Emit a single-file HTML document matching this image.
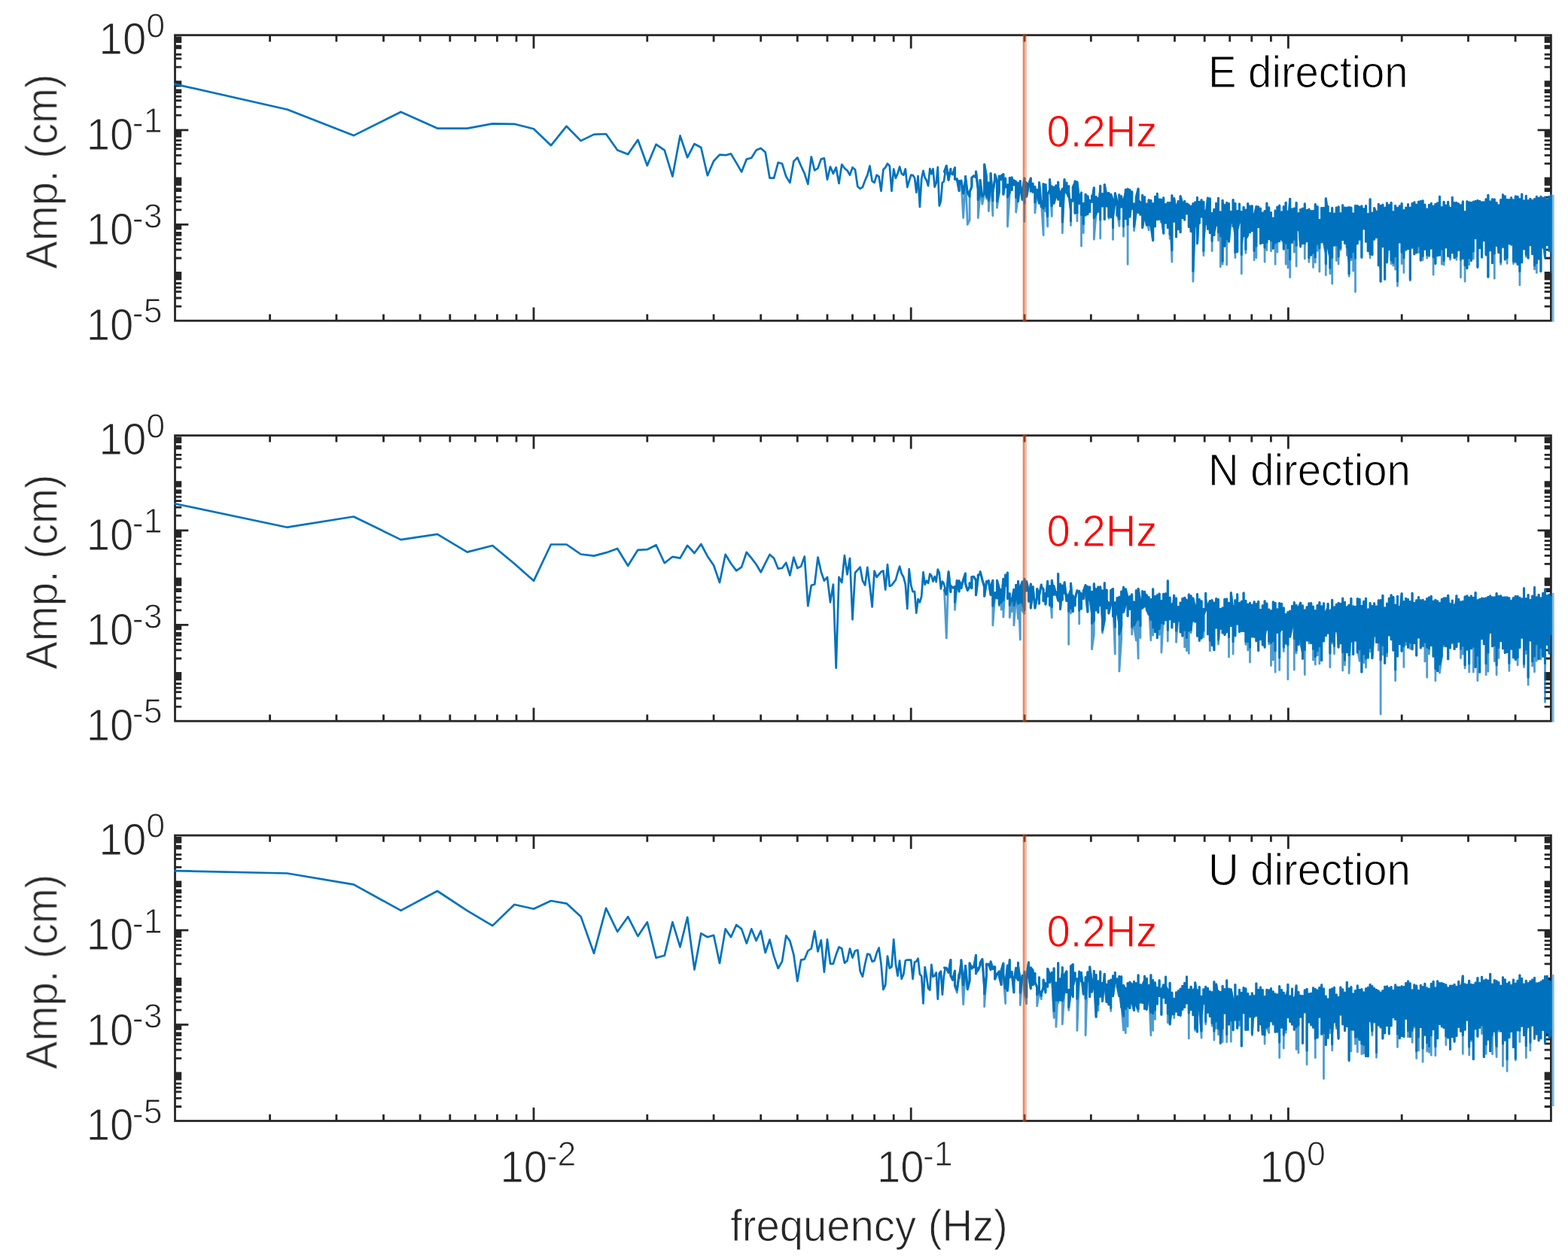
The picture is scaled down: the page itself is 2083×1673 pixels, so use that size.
<!DOCTYPE html>
<html lang="en"><head><meta charset="utf-8"><title>Amplitude spectra</title>
<style>html,body{margin:0;padding:0;background:#fff}body{width:2083px;height:1673px;overflow:hidden}svg{display:block}text{font-family:"Liberation Sans",sans-serif}</style>
</head><body>
<svg width="2083" height="1673" viewBox="0 0 2083 1673" role="img" aria-label="Amplitude spectra of E, N and U directions">
<rect width="2083" height="1673" fill="#fff"/>
<defs><filter id="bl" filterUnits="userSpaceOnUse" x="0" y="0" width="2083" height="1673"><feGaussianBlur stdDeviation="0.5"/></filter><filter id="tb" filterUnits="userSpaceOnUse" x="0" y="0" width="2083" height="1673"><feGaussianBlur stdDeviation="0.7"/></filter></defs>
<g>
<clipPath id="c0"><rect x="231.1" y="46.7" width="1830.7" height="380.9"/></clipPath>
<path d="M232.5 89.1h8.7M2060.4 89.1h-8.7M232.5 77.9h8.7M2060.4 77.9h-8.7M232.5 72.3h8.7M2060.4 72.3h-8.7M232.5 63.9h8.7M2060.4 63.9h-8.7M232.5 61.2h8.7M2060.4 61.2h-8.7M232.5 55.6h8.7M2060.4 55.6h-8.7M232.5 52.8h8.7M2060.4 52.8h-8.7M232.5 50h8.7M2060.4 50h-8.7M232.5 108.6h8.7M2060.4 108.6h-8.7M232.5 153.2h8.7M2060.4 153.2h-8.7M232.5 142.1h8.7M2060.4 142.1h-8.7M232.5 133.7h8.7M2060.4 133.7h-8.7M232.5 128.1h8.7M2060.4 128.1h-8.7M232.5 122.5h8.7M2060.4 122.5h-8.7M232.5 119.8h8.7M2060.4 119.8h-8.7M232.5 114.2h8.7M2060.4 114.2h-8.7M232.5 111.4h8.7M2060.4 111.4h-8.7M232.5 172.8h17.8M2060.4 172.8h-17.8M232.5 217.4h8.7M2060.4 217.4h-8.7M232.5 206.3h8.7M2060.4 206.3h-8.7M232.5 197.9h8.7M2060.4 197.9h-8.7M232.5 192.3h8.7M2060.4 192.3h-8.7M232.5 186.7h8.7M2060.4 186.7h-8.7M232.5 181.1h8.7M2060.4 181.1h-8.7M232.5 178.4h8.7M2060.4 178.4h-8.7M232.5 175.6h8.7M2060.4 175.6h-8.7M232.5 236.9h8.7M2060.4 236.9h-8.7M232.5 278.8h8.7M2060.4 278.8h-8.7M232.5 267.6h8.7M2060.4 267.6h-8.7M232.5 262.1h8.7M2060.4 262.1h-8.7M232.5 253.7h8.7M2060.4 253.7h-8.7M232.5 250.9h8.7M2060.4 250.9h-8.7M232.5 245.3h8.7M2060.4 245.3h-8.7M232.5 242.5h8.7M2060.4 242.5h-8.7M232.5 239.7h8.7M2060.4 239.7h-8.7M232.5 298.3h17.8M2060.4 298.3h-17.8M232.5 343h8.7M2060.4 343h-8.7M232.5 331.8h8.7M2060.4 331.8h-8.7M232.5 323.5h8.7M2060.4 323.5h-8.7M232.5 317.9h8.7M2060.4 317.9h-8.7M232.5 312.3h8.7M2060.4 312.3h-8.7M232.5 309.5h8.7M2060.4 309.5h-8.7M232.5 303.9h8.7M2060.4 303.9h-8.7M232.5 301.1h8.7M2060.4 301.1h-8.7M232.5 362.5h8.7M2060.4 362.5h-8.7M232.5 407.2h8.7M2060.4 407.2h-8.7M232.5 396h8.7M2060.4 396h-8.7M232.5 387.6h8.7M2060.4 387.6h-8.7M232.5 382.1h8.7M2060.4 382.1h-8.7M232.5 376.5h8.7M2060.4 376.5h-8.7M232.5 370.9h8.7M2060.4 370.9h-8.7M232.5 368.1h8.7M2060.4 368.1h-8.7M232.5 365.3h8.7M2060.4 365.3h-8.7M358.6 426.2v-8.7M358.6 46.7v8.7M446.9 426.2v-8.7M446.9 46.7v8.7M509.5 426.2v-8.7M509.5 46.7v8.7M558.1 426.2v-8.7M558.1 46.7v8.7M597.8 426.2v-8.7M597.8 46.7v8.7M631.3 426.2v-8.7M631.3 46.7v8.7M660.4 426.2v-8.7M660.4 46.7v8.7M686 426.2v-8.7M686 46.7v8.7M709 426.2v-17.8M709 46.7v17.8M859.8 426.2v-8.7M859.8 46.7v8.7M948.1 426.2v-8.7M948.1 46.7v8.7M1010.7 426.2v-8.7M1010.7 46.7v8.7M1059.3 426.2v-8.7M1059.3 46.7v8.7M1099 426.2v-8.7M1099 46.7v8.7M1132.5 426.2v-8.7M1132.5 46.7v8.7M1161.6 426.2v-8.7M1161.6 46.7v8.7M1187.2 426.2v-8.7M1187.2 46.7v8.7M1210.2 426.2v-17.8M1210.2 46.7v17.8M1361 426.2v-8.7M1361 46.7v8.7M1449.3 426.2v-8.7M1449.3 46.7v8.7M1511.9 426.2v-8.7M1511.9 46.7v8.7M1560.5 426.2v-8.7M1560.5 46.7v8.7M1600.2 426.2v-8.7M1600.2 46.7v8.7M1633.7 426.2v-8.7M1633.7 46.7v8.7M1662.8 426.2v-8.7M1662.8 46.7v8.7M1688.4 426.2v-8.7M1688.4 46.7v8.7M1711.4 426.2v-17.8M1711.4 46.7v17.8M1862.2 426.2v-8.7M1862.2 46.7v8.7M1950.5 426.2v-8.7M1950.5 46.7v8.7M2013.1 426.2v-8.7M2013.1 46.7v8.7" fill="none" stroke="#262626" stroke-width="2.8"/>
<rect x="232.5" y="46.7" width="1827.9" height="379.5" fill="none" stroke="#262626" stroke-width="2.8"/>
<g clip-path="url(#c0)" filter="url(#bl)" fill="none" stroke="#0072BD" stroke-linejoin="round">
<path d="M230.7,111.4 381.6,145.5 469.8,180.1 532.5,148.7 581,170.6 620.7,170.6 654.3,164.4 683.3,164.8 709,171.3 731.9,193.3 752.6,167.7 771.6,187.1 789,178.6 805.1,178 820.2,199.6 834.2,205 847.4,185.8 859.8,220 871.6,191.8 882.8,199.6 893.4,234.4 903.5,180.4 913.2,209.2 922.5,191.2 931.3,196 939.9,233.2 948.1,214 956,205.6 963.7,206.2 971,204.4 978.2,216.4 985.1,228.4 991.8,211.6 998.3,209.8 1004.6,199.6 1010.7,197 1016.7,202.2 1022.5,236.6 1028.1,236.6 1033.7,216 1039,217.5 1044.3,234.6 1049.4,242.7 1054.4,214.4 1059.3,209.4 1064.1,220.5 1068.8,230.6 1073.3,244.7 1077.8,208.4 1082.2,226.5 1086.5,223.5 1090.8,211.4 1094.9,210.4 1099,238.6 1103,221.5 1106.9,230.6 1110.7,222.5 1114.5,243.7 1118.3,218.5 1121.9,223.5 1125.5,226.5 1129,232.6 1132.5,222.5 1136,225.5 1139.3,247.7 1142.7,250.7 1145.9,248.7 1149.2,239.6 1152.3,232.6 1155.5,220.5 1158.6,240.6 1161.6,242.7 1164.6,232.6 1167.6,234.6 1170.5,253.8 1173.4,225.5 1176.2,222.5 1179,217.5 1181.8,220.5 1184.5,253.8 1187.2,224.5 1189.9,236.6 1192.5,230.6 1195.1,221.5 1197.7,230.6 1200.3,232.6 1202.8,224.5 1205.3,248.7 1207.7,240.6 1210.2,232.6 1212.6,232.9 1215,236.2 1217.3,255.6 1219.6,233.9 1221.9,275 1224.2,237.8 1226.5,226.8 1228.7,236 1230.9,239.8 1233.1,246.8 1235.3,224.2 1237.4,231.1 1239.5,224.4 1241.6,248.5 1243.7,243.3 1245.8,222.2 1247.8,273.5 1249.9,266.8 1251.9,242.6 1253.8,241.4 1255.8,228.3" stroke-width="2.7"/>
<path d="M1255.8,228.3 1254.5,228.3 1257.3,220.3 1260.1,239.2 1262.9,224.6 1262.9,230 1265.7,231.8 1268.5,222.9 1268.5,238.2 1271.3,237.7 1274.1,253.6 1274.1,240.3 1276.9,244.4 1276.9,240.1 1279.7,289.5 1282.5,239.1 1282.5,234.3 1285.3,298.4 1288.1,292.4 1288.1,255 1290.9,248.2 1290.9,236.1 1293.7,233.7 1296.5,235.6 1296.5,228 1299.3,251.7 1299.3,289.5 1302.1,256.9 1302.1,239.2 1304.9,271.3 1307.7,257.6 1307.7,218.5 1310.5,234.8 1310.5,264.1 1313.3,242.8 1313.3,280.6 1316.1,241.1 1316.1,230.4 1318.9,286.6 1318.9,255.2 1321.7,238.2 1321.7,231.9 1324.5,240.4 1324.5,276.1 1327.3,255.1 1327.3,234 1330.1,238.6 1330.1,233.6 1332.9,231.6 1332.9,258.2 1335.7,237 1335.7,248.7 1338.5,245.4 1338.5,301 1341.3,255.8 1341.3,236.2 1344.1,252.5 1344.1,235.9 1346.9,245.7 1346.9,239.7 1349.7,241.6 1349.7,282.1 1352.5,261 1352.5,243.1 1352.5,267.5 1355.3,240.6 1355.3,246.2 1358.1,265.3 1358.1,254.5 1360.9,237 1360.9,294.6 1360.9,241.6 1363.7,243.2 1363.7,261.2 1366.5,245.7 1366.5,244.9 1369.3,236.9 1369.3,237.9 1369.3,254.2 1372.1,244 1372.1,255.2 1374.9,248.2 1374.9,250.8 1374.9,282.8 1377.7,252.1 1377.7,255.2 1380.5,270 1380.5,243.4 1380.5,242.5 1383.3,274.9 1383.3,267.1 1386.1,312.5 1386.1,244.4 1386.1,263.2 1388.9,280.7 1388.9,245.2 1391.7,301 1391.7,273.5 1391.7,258.4 1394.5,252.7 1394.5,242.3 1394.5,238.5 1397.3,287.4 1397.3,247.8 1400.1,263.4 1400.1,248.7 1400.1,270.2 1402.9,259.6 1402.9,250.3 1402.9,246.6 1405.7,265.1 1405.7,242.1 1405.7,248.8 1408.5,259.3 1408.5,273.7 1408.5,261.5 1411.3,251.1 1411.3,281.1 1411.3,309.6 1414.1,238.5 1414.1,251.3 1414.1,256.8 1416.9,243.1 1416.9,248.6 1416.9,254.9 1419.7,261.6 1419.7,247.3 1419.7,255.2 1422.5,279.6 1422.5,299.6 1422.5,265.5 1425.3,267.1 1425.3,263 1425.3,248.6 1428.1,242.7 1428.1,240.8 1428.1,283.2 1430.9,268.4 1430.9,293.7 1430.9,241.8 1433.7,266.1 1433.7,260.8 1433.7,270.5 1436.5,256 1436.5,326.9 1436.5,263.5 1436.5,271.4 1439.3,283.6 1439.3,309.6 1439.3,270.2 1442.1,275.1 1442.1,286.1 1442.1,258.2 1444.9,269.9 1444.9,284.7 1444.9,281.7 1444.9,260.7 1447.7,275.9 1447.7,281.4 1447.7,266.3 1450.5,268.3 1450.5,260.3 1450.5,267 1450.5,268.1 1453.3,249.6 1453.3,269.6 1453.3,318 1456.1,284.2 1456.1,273.9 1456.1,261.5 1456.1,274.5 1458.9,268.1 1458.9,263.5 1458.9,281.3 1461.7,250.9 1461.7,316.8 1461.7,247.1 1461.7,269.6 1464.5,265.5 1464.5,257.5 1464.5,274 1464.5,266.4 1467.3,270.7 1467.3,291.4 1467.3,259 1467.3,245.2 1470.1,260.7 1470.1,274 1470.1,257.6 1472.9,256.5 1472.9,290.3 1472.9,273.6 1472.9,265.9 1475.7,289 1475.7,262.4 1475.7,274.4 1475.7,258.3 1478.5,266.1 1478.5,282.2 1478.5,318.3 1478.5,288.6 1481.3,265 1481.3,271.9 1481.3,263.1 1481.3,256.7 1484.1,269.1 1484.1,285.4 1484.1,286.5 1484.1,278 1486.9,300.4 1486.9,262.5 1486.9,258.8 1486.9,268.4 1489.7,262.8 1489.7,260.8 1489.7,275.1 1489.7,270.3 1492.5,264.6 1492.5,287.1 1492.5,314.1 1492.5,269.4 1495.3,255.4 1495.3,252.1 1495.3,290.7 1495.3,253.3 1498.1,279.8 1498.1,351.2 1498.1,251.1 1500.9,259.4 1500.9,270.6 1500.9,252.2 1500.9,288 1503.7,263.6 1503.7,260 1503.7,254.8 1503.7,277.5 1506.5,270.9 1506.5,306.6 1509.3,280.4 1509.3,263.1 1509.3,272.5 1509.3,262.5 1512.1,250.9 1512.1,282.4 1512.1,266.3 1514.9,268.8 1514.9,285.2 1517.7,270.8 1517.7,259.4 1517.7,302.4 1520.5,283.9 1520.5,261.8 1520.5,273.3 1520.5,279.7 1523.3,299.2 1523.3,271 1523.3,288.9 1526.1,305.7 1526.1,265.7 1526.1,284.9 1528.9,290.9 1528.9,266.4 1528.9,299.1 1531.7,319.5 1531.7,270.5 1534.5,300.9 1534.5,261.3 1534.5,274.9 1537.3,278.8 1537.3,257.3 1537.3,291.8 1537.3,260.6 1540.1,291.3 1540.1,265.1 1542.9,265.5 1542.9,295 1542.9,285.8 1545.7,309.1 1545.7,310.1 1545.7,262.9 1545.7,279.5 1548.5,271.5 1548.5,296.2 1551.3,281.2 1551.3,302.5 1551.3,269.3 1554.1,297.4 1554.1,317.3 1554.1,269.4 1556.9,348 1556.9,259.7 1556.9,280.7 1559.7,276.8 1559.7,294.3 1559.7,263.6 1562.5,282 1562.5,314.8 1562.5,273 1562.5,280 1565.3,267.5 1565.3,304.6 1565.3,275.1 1568.1,270.6 1568.1,308.7 1568.1,260.7 1570.9,271.1 1570.9,289.5 1570.9,286.7 1573.7,267.5 1573.7,292.1 1573.7,271.9 1576.5,283.7 1576.5,283.9 1576.5,270.7 1579.3,272.6 1579.3,301.4 1579.3,287.5 1582.1,302.1 1582.1,274.1 1582.1,307.5 1582.1,277.3 1584.9,310.7 1584.9,270.6 1584.9,374 1587.7,275.8 1587.7,268.9 1587.7,300.9 1587.7,281.1 1590.5,292.1 1590.5,262.5 1590.5,323.4 1593.3,270.6 1593.3,296.5 1593.3,268.3 1596.1,270.5 1596.1,265.7 1596.1,288.1 1596.1,274.4 1598.9,275.2 1598.9,339.6 1598.9,268.4 1598.9,319.3 1601.7,284.7 1601.7,298.1 1601.7,280.1 1601.7,290.1 1604.5,263.1 1604.5,304.2 1604.5,283.1 1607.3,275.6 1607.3,263.8 1607.3,309.6 1607.3,295.3 1610.1,306.1 1610.1,283.4 1610.1,333.6 1610.1,301.6 1612.9,278.4 1612.9,312.5 1612.9,308.6 1615.7,295.4 1615.7,299.4 1615.7,270.2 1615.7,281.8 1618.5,286.2 1618.5,263.4 1618.5,319.5 1618.5,294.4 1621.3,281.9 1621.3,354.5 1621.3,296.3 1624.1,299.8 1624.1,266.2 1624.1,351 1624.1,269.3 1626.9,277.1 1626.9,272.6 1626.9,327.1 1629.7,290.9 1629.7,351.8 1629.7,269.3 1632.5,317.5 1632.5,270.6 1632.5,321 1635.3,285.9 1635.3,295.2 1635.3,281.2 1638.1,298.4 1638.1,265.6 1638.1,300.7 1638.1,285.2 1640.9,313.1 1640.9,270.3 1640.9,342.4 1640.9,288.5 1643.7,331.2 1643.7,280.2 1643.7,334.5 1643.7,305.5 1646.5,293.7 1646.5,294.7 1646.5,271 1646.5,287.7 1649.3,296.9 1649.3,281.4 1649.3,363.7 1649.3,324.6 1652.1,300.6 1652.1,275.3 1652.1,313.6 1652.1,282.1 1654.9,298.2 1654.9,279 1654.9,336.3 1654.9,317.3 1657.7,312.4 1657.7,270.5 1657.7,273.4 1660.5,274.3 1660.5,308.8 1663.3,273.7 1663.3,306.7 1666.1,286.4 1666.1,345.6 1666.1,285 1666.1,286.6 1668.9,275.5 1668.9,342.6 1668.9,274.4 1671.7,281.1 1671.7,274.8 1671.7,301.8 1671.7,286.7 1674.5,302 1674.5,277.1 1674.5,323.7 1674.5,307.2 1677.3,285 1677.3,322.8 1677.3,283 1677.3,288.5 1680.1,288.2 1680.1,348 1680.1,280.4 1680.1,314.9 1682.9,284.6 1682.9,270.1 1682.9,332.4 1682.9,294.6 1685.7,306.9 1685.7,275.8 1685.7,317.6 1685.7,283.6 1688.5,282.7 1688.5,333.7 1688.5,294.6 1691.3,303.1 1691.3,290 1691.3,330.2 1694.1,299.3 1694.1,280 1694.1,351.2 1694.1,289 1696.9,281.1 1696.9,335.1 1696.9,275.1 1696.9,281.8 1699.7,275.4 1699.7,320.4 1699.7,273.1 1699.7,297.9 1702.5,283.8 1702.5,281.7 1702.5,317.5 1705.3,321.4 1705.3,330.9 1705.3,274.6 1705.3,295.3 1708.1,294.8 1708.1,351 1708.1,269.2 1708.1,281.2 1710.9,281.2 1710.9,355.8 1710.9,281 1710.9,307.4 1713.7,264.3 1713.7,368.5 1713.7,297.9 1716.5,314.6 1716.5,322.2 1716.5,277.9 1716.5,312.3 1719.3,287.6 1719.3,277 1719.3,335.1 1722.1,312.2 1722.1,269.5 1722.1,353.7 1722.1,283.7 1724.9,299.5 1724.9,283.5 1724.9,305.4 1724.9,288.5 1727.7,328.3 1727.7,278.3 1727.7,313.1 1730.5,298.6 1730.5,277.1 1730.5,323.4 1730.5,311.8 1733.3,290.7 1733.3,270.9 1733.3,343.8 1733.3,288.8 1736.1,289.2 1736.1,279.3 1736.1,320.8 1736.1,289.6 1738.9,295.1 1738.9,348.2 1738.9,278.1 1738.9,285.7 1741.7,298.3 1741.7,280.4 1741.7,338.9 1741.7,286.5 1744.5,322 1744.5,355.4 1744.5,280.4 1744.5,297.3 1747.3,277.8 1747.3,348.8 1747.3,271.5 1747.3,284.1 1750.1,294.2 1750.1,274.6 1750.1,333.4 1752.9,299.7 1752.9,360.9 1752.9,292.2 1752.9,298.3 1755.7,321.8 1755.7,276.4 1755.7,299.5 1758.5,277.6 1758.5,276.2 1758.5,322.9 1761.3,336.4 1761.3,365.6 1761.3,263.8 1764.1,286.3 1764.1,274.2 1764.1,327.2 1766.9,341.9 1766.9,283.4 1766.9,363.7 1766.9,301.6 1769.7,284.3 1769.7,276.3 1769.7,377 1769.7,285.7 1772.5,288.9 1772.5,284 1772.5,326.1 1772.5,303.5 1775.3,287.9 1775.3,346.3 1775.3,276 1775.3,286.8 1778.1,288.1 1778.1,350.8 1778.1,274.9 1778.1,291.1 1780.9,303.2 1780.9,332.1 1780.9,283.5 1780.9,310.8 1783.7,311.2 1783.7,318.6 1783.7,272.7 1783.7,294.1 1786.5,294.3 1786.5,323.2 1786.5,276 1786.5,300.3 1789.3,279.7 1789.3,339.3 1789.3,276.1 1789.3,309.4 1792.1,349.7 1792.1,275.3 1792.1,367.1 1792.1,286.6 1794.9,287.5 1794.9,345.7 1794.9,276 1794.9,300.6 1797.7,320.6 1797.7,283.9 1797.7,360 1800.5,304.9 1800.5,273.2 1800.5,387.8 1800.5,329 1803.3,291.7 1803.3,323.6 1803.3,273.5 1803.3,283.2 1806.1,300.8 1806.1,275 1806.1,318.2 1806.1,286.4 1808.9,289 1808.9,273.9 1808.9,342.1 1808.9,286.6 1811.7,302.3 1811.7,277.6 1811.7,303.9 1811.7,282.9 1814.5,300 1814.5,273.5 1814.5,321.1 1817.3,299.2 1817.3,284.4 1817.3,333.4 1817.3,292 1820.1,323.6 1820.1,342.7 1820.1,264.9 1820.1,298.3 1822.9,301.6 1822.9,338.5 1822.9,283 1822.9,308.2 1825.7,297.6 1825.7,318.1 1825.7,276.5 1828.5,286.9 1828.5,315.3 1828.5,281.1 1828.5,291.4 1831.3,303.6 1831.3,271.2 1831.3,352.4 1831.3,306.9 1834.1,360.1 1834.1,374 1834.1,273.4 1834.1,282 1836.9,283.3 1836.9,327.5 1836.9,272.1 1836.9,278 1839.7,283.6 1839.7,371.1 1839.7,276.4 1839.7,283.2 1842.5,273.1 1842.5,269.9 1842.5,349 1845.3,279.3 1845.3,331.5 1845.3,272.5 1845.3,289.3 1848.1,307.1 1848.1,269.4 1848.1,350.5 1850.9,292.8 1850.9,352.9 1850.9,281.6 1850.9,300.9 1853.7,295.6 1853.7,273.4 1853.7,358.1 1856.5,306.7 1856.5,380 1856.5,276.4 1856.5,293.5 1859.3,296.7 1859.3,321.9 1859.3,273.8 1859.3,313.6 1862.1,279.7 1862.1,350.6 1862.1,270.5 1862.1,282.7 1864.9,280.2 1864.9,279.5 1864.9,362.3 1864.9,328.6 1867.7,289.2 1867.7,276.1 1867.7,332 1867.7,285.2 1870.5,291.5 1870.5,330.5 1870.5,271.6 1870.5,289.6 1873.3,293.5 1873.3,372.7 1873.3,276.1 1873.3,281.7 1876.1,301.2 1876.1,270.2 1876.1,329 1876.1,279.8 1878.9,277.5 1878.9,337.7 1878.9,268.8 1878.9,311.6 1881.7,305.7 1881.7,272.1 1881.7,335.8 1881.7,286.9 1884.5,305.9 1884.5,268.1 1884.5,335.7 1887.3,267.4 1887.3,346 1887.3,312.5 1890.1,287.8 1890.1,266.7 1890.1,345.6 1890.1,306.4 1892.9,289.6 1892.9,331.1 1892.9,272.1 1892.9,289.5 1895.7,301.9 1895.7,278 1895.7,343 1895.7,285 1898.5,304.9 1898.5,339.9 1898.5,272.4 1898.5,307 1901.3,310 1901.3,330 1901.3,270.2 1901.3,293.3 1904.1,285.3 1904.1,365 1904.1,274.1 1904.1,288 1906.9,283.6 1906.9,350.3 1906.9,271.4 1906.9,293.6 1909.7,282 1909.7,339.6 1909.7,269.9 1909.7,294.3 1912.5,332.2 1912.5,261.2 1912.5,339.1 1912.5,283.3 1915.3,316.9 1915.3,275.5 1915.3,351.2 1915.3,287.9 1918.1,320.9 1918.1,352.1 1918.1,268.3 1918.1,281.3 1920.9,278.7 1920.9,328.7 1920.9,273 1920.9,293.3 1923.7,279.8 1923.7,340.2 1923.7,268.3 1923.7,272.1 1926.5,283.9 1926.5,345 1926.5,276.2 1926.5,301.3 1929.3,287.1 1929.3,262.3 1929.3,335.8 1929.3,292.1 1932.1,284.8 1932.1,269.4 1932.1,342.8 1934.9,314.8 1934.9,345.2 1934.9,269.3 1934.9,299 1937.7,300.9 1937.7,332.3 1937.7,270.9 1937.7,282.3 1940.5,291.4 1940.5,368.7 1940.5,272.8 1943.3,273.9 1943.3,267.9 1943.3,343.6 1943.3,288.8 1946.1,288.3 1946.1,374 1946.1,281.6 1946.1,305.5 1948.9,293.7 1948.9,267.7 1948.9,356.5 1948.9,327.8 1951.7,283.4 1951.7,351.7 1951.7,268.8 1951.7,314.2 1954.5,323.6 1954.5,269.3 1954.5,346.3 1954.5,309.6 1957.3,320 1957.3,343.9 1957.3,268.1 1957.3,294.2 1960.1,286.2 1960.1,267.2 1960.1,316.4 1960.1,279.6 1962.9,313.4 1962.9,355.1 1962.9,266.4 1962.9,317.3 1965.7,299.2 1965.7,267.3 1965.7,329.5 1965.7,296.2 1968.5,323.4 1968.5,268.7 1968.5,341.9 1968.5,319.4 1971.3,278.8 1971.3,268.7 1971.3,319.5 1971.3,297.2 1974.1,278.1 1974.1,264.8 1974.1,339.3 1974.1,302.5 1976.9,312.5 1976.9,368 1976.9,259.4 1976.9,296.8 1979.7,272.1 1979.7,332.8 1979.7,267.9 1979.7,280.4 1982.5,268.5 1982.5,264.9 1982.5,349.5 1982.5,290 1985.3,286.7 1985.3,370.1 1985.3,265 1985.3,279.2 1988.1,270 1988.1,269.5 1988.1,326.2 1988.1,277.8 1990.9,335.6 1990.9,272.8 1990.9,289.3 1993.7,278.8 1993.7,265.6 1993.7,351.3 1993.7,304.1 1996.5,297.7 1996.5,328.7 1996.5,258.8 1996.5,291.4 1999.3,293.5 1999.3,260.9 1999.3,344.7 1999.3,267.8 2002.1,283 2002.1,265.3 2002.1,350.2 2002.1,269.9 2004.9,281.8 2004.9,323.7 2004.9,265.5 2004.9,304.8 2007.7,308.3 2007.7,325 2007.7,262.7 2007.7,274.6 2010.5,287.6 2010.5,350.5 2010.5,265.8 2010.5,295.6 2013.3,275.6 2013.3,348.7 2013.3,260.9 2013.3,265.9 2016.1,311.3 2016.1,261.4 2016.1,351.2 2016.1,293.5 2018.9,286.5 2018.9,264.5 2018.9,378.8 2018.9,282.5 2021.7,296.6 2021.7,348.6 2021.7,258.1 2021.7,292.9 2024.5,270.2 2024.5,266.8 2024.5,330.8 2024.5,272.5 2027.3,290.5 2027.3,260.4 2027.3,341 2027.3,281.6 2030.1,274.9 2030.1,266.6 2030.1,342.9 2030.1,271.2 2032.9,286.1 2032.9,264.3 2032.9,325.8 2032.9,281.7 2035.7,273.2 2035.7,337.6 2035.7,266.3 2035.7,277.4 2038.5,276.9 2038.5,357.8 2038.5,264.5 2038.5,289.1 2041.3,283.3 2041.3,362.4 2041.3,261.2 2041.3,286.2 2044.1,296.8 2044.1,344 2044.1,263.3 2044.1,297 2046.9,292.1 2046.9,360.6 2046.9,261.3 2046.9,287.7 2049.7,288.9 2049.7,328.9 2049.7,263.1 2049.7,311.6 2052.5,341.7 2052.5,262.4 2052.5,288.4 2055.3,271.4 2055.3,325.5 2055.3,265.5 2055.3,283.8 2058.1,283.5 2058.1,333.3 2058.1,261.3 2058.1,280 2060.9,272.4 2060.9,361.5 2060.9,257.8" stroke-width="2.8" stroke-opacity="0.7"/>
<path d="M1255.8,228.3 1254.5,228.3 1257.3,220.3 1260.1,239.2 1262.9,224.6 1262.9,230 1265.7,231.8 1268.5,222.9 1268.5,238.2 1271.3,237.7 1274.1,253.6 1274.1,240.3 1276.9,244.4 1276.9,240.1 1279.7,257.2 1282.5,239.1 1282.5,234.3 1285.3,256.1 1288.1,261.2 1288.1,255 1290.9,248.2 1290.9,236.1 1293.7,233.7 1296.5,235.6 1296.5,228 1299.3,251.7 1299.3,265.6 1302.1,256.9 1302.1,239.2 1304.9,261 1307.7,257.6 1307.7,218.5 1310.5,234.8 1310.5,261.3 1313.3,242.8 1313.3,266.7 1316.1,241.1 1316.1,230.4 1318.9,266.9 1318.9,255.2 1321.7,238.2 1321.7,231.9 1324.5,240.4 1324.5,267.5 1327.3,255.1 1327.3,234 1330.1,238.6 1330.1,233.6 1332.9,231.6 1332.9,258.2 1335.7,237 1335.7,248.7 1338.5,245.4 1338.5,262 1341.3,255.8 1341.3,236.2 1344.1,252.5 1344.1,235.9 1346.9,245.7 1346.9,239.7 1349.7,241.6 1349.7,262.6 1352.5,261 1352.5,243.1 1352.5,267.5 1355.3,240.6 1355.3,246.2 1358.1,265.3 1358.1,254.5 1360.9,237 1360.9,270 1360.9,241.6 1363.7,243.2 1363.7,261.2 1366.5,245.7 1366.5,244.9 1369.3,236.9 1369.3,237.9 1369.3,254.2 1372.1,244 1372.1,255.2 1374.9,248.2 1374.9,250.8 1374.9,268.9 1377.7,252.1 1377.7,255.2 1380.5,270 1380.5,243.4 1380.5,242.5 1383.3,274.9 1383.3,267.1 1386.1,277.2 1386.1,244.4 1386.1,263.2 1388.9,273.8 1388.9,245.2 1391.7,287.5 1391.7,273.5 1391.7,258.4 1394.5,252.7 1394.5,242.3 1394.5,238.5 1397.3,273.8 1397.3,247.8 1400.1,263.4 1400.1,248.7 1400.1,270.2 1402.9,259.6 1402.9,250.3 1402.9,246.6 1405.7,265.1 1405.7,242.1 1405.7,248.8 1408.5,259.3 1408.5,273.7 1408.5,261.5 1411.3,251.1 1411.3,281.1 1411.3,295.1 1414.1,238.5 1414.1,251.3 1414.1,256.8 1416.9,243.1 1416.9,248.6 1416.9,254.9 1419.7,261.6 1419.7,247.3 1419.7,255.2 1422.5,279.6 1422.5,293.6 1422.5,265.5 1425.3,267.1 1425.3,263 1425.3,248.6 1428.1,242.7 1428.1,240.8 1428.1,283.2 1430.9,268.4 1430.9,283.1 1430.9,241.8 1433.7,266.1 1433.7,260.8 1433.7,270.5 1436.5,256 1436.5,285.4 1436.5,263.5 1436.5,271.4 1439.3,283.6 1439.3,297.6 1439.3,270.2 1442.1,275.1 1442.1,286.1 1442.1,258.2 1444.9,269.9 1444.9,284.7 1444.9,281.7 1444.9,260.7 1447.7,275.9 1447.7,281.4 1447.7,266.3 1450.5,268.3 1450.5,260.3 1450.5,267 1450.5,268.1 1453.3,249.6 1453.3,269.6 1453.3,289.8 1456.1,284.2 1456.1,273.9 1456.1,261.5 1456.1,274.5 1458.9,268.1 1458.9,263.5 1458.9,281.3 1461.7,250.9 1461.7,292.1 1461.7,247.1 1461.7,269.6 1464.5,265.5 1464.5,257.5 1464.5,274 1464.5,266.4 1467.3,270.7 1467.3,291.4 1467.3,259 1467.3,245.2 1470.1,260.7 1470.1,274 1470.1,257.6 1472.9,256.5 1472.9,287.9 1472.9,273.6 1472.9,265.9 1475.7,288.4 1475.7,262.4 1475.7,274.4 1475.7,258.3 1478.5,266.1 1478.5,282.2 1478.5,302.6 1478.5,288.6 1481.3,265 1481.3,271.9 1481.3,263.1 1481.3,256.7 1484.1,269.1 1484.1,285.4 1484.1,286.5 1484.1,278 1486.9,291.3 1486.9,262.5 1486.9,258.8 1486.9,268.4 1489.7,262.8 1489.7,260.8 1489.7,275.1 1489.7,270.3 1492.5,264.6 1492.5,287.1 1492.5,301.1 1492.5,269.4 1495.3,255.4 1495.3,252.1 1495.3,290.7 1495.3,253.3 1498.1,279.8 1498.1,298.5 1498.1,251.1 1500.9,259.4 1500.9,270.6 1500.9,252.2 1500.9,288 1503.7,263.6 1503.7,260 1503.7,254.8 1503.7,277.5 1506.5,270.9 1506.5,301.1 1509.3,280.4 1509.3,263.1 1509.3,272.5 1509.3,262.5 1512.1,250.9 1512.1,282.4 1512.1,266.3 1514.9,268.8 1514.9,285.2 1517.7,270.8 1517.7,259.4 1517.7,302.4 1520.5,283.9 1520.5,261.8 1520.5,273.3 1520.5,279.7 1523.3,299.2 1523.3,271 1523.3,288.9 1526.1,298.9 1526.1,265.7 1526.1,284.9 1528.9,290.9 1528.9,266.4 1528.9,299.1 1531.7,319.5 1531.7,270.5 1534.5,300.9 1534.5,261.3 1534.5,274.9 1537.3,278.8 1537.3,257.3 1537.3,291.8 1537.3,260.6 1540.1,291.3 1540.1,265.1 1542.9,265.5 1542.9,295 1542.9,285.8 1545.7,309.1 1545.7,310.1 1545.7,262.9 1545.7,279.5 1548.5,271.5 1548.5,296.2 1551.3,281.2 1551.3,302.5 1551.3,269.3 1554.1,297.4 1554.1,311.4 1554.1,269.4 1556.9,332.4 1556.9,259.7 1556.9,280.7 1559.7,276.8 1559.7,294.3 1559.7,263.6 1562.5,282 1562.5,314.8 1562.5,273 1562.5,280 1565.3,267.5 1565.3,304.6 1565.3,275.1 1568.1,270.6 1568.1,308.4 1568.1,260.7 1570.9,271.1 1570.9,289.5 1570.9,286.7 1573.7,267.5 1573.7,292.1 1573.7,271.9 1576.5,283.7 1576.5,283.9 1576.5,270.7 1579.3,272.6 1579.3,301.4 1579.3,287.5 1582.1,302.1 1582.1,274.1 1582.1,307.5 1582.1,277.3 1584.9,310.7 1584.9,270.6 1584.9,360.2 1587.7,275.8 1587.7,268.9 1587.7,300.9 1587.7,281.1 1590.5,292.1 1590.5,262.5 1590.5,323.4 1593.3,270.6 1593.3,296.5 1593.3,268.3 1596.1,270.5 1596.1,265.7 1596.1,288.1 1596.1,274.4 1598.9,275.2 1598.9,333.3 1598.9,268.4 1598.9,319.3 1601.7,284.7 1601.7,298.1 1601.7,280.1 1601.7,290.1 1604.5,263.1 1604.5,304.2 1604.5,283.1 1607.3,275.6 1607.3,263.8 1607.3,309.6 1607.3,295.3 1610.1,306.1 1610.1,283.4 1610.1,320.1 1610.1,301.6 1612.9,278.4 1612.9,312.5 1612.9,308.6 1615.7,295.4 1615.7,299.4 1615.7,270.2 1615.7,281.8 1618.5,286.2 1618.5,263.4 1618.5,308.4 1618.5,294.4 1621.3,281.9 1621.3,313.6 1621.3,296.3 1624.1,299.8 1624.1,266.2 1624.1,347.1 1624.1,269.3 1626.9,277.1 1626.9,272.6 1626.9,327.1 1629.7,290.9 1629.7,317.6 1629.7,269.3 1632.5,317.5 1632.5,270.6 1632.5,321 1635.3,285.9 1635.3,295.2 1635.3,281.2 1638.1,298.4 1638.1,265.6 1638.1,300.7 1638.1,285.2 1640.9,313.1 1640.9,270.3 1640.9,335.5 1640.9,288.5 1643.7,331.2 1643.7,280.2 1643.7,334.5 1643.7,305.5 1646.5,293.7 1646.5,294.7 1646.5,271 1646.5,287.7 1649.3,296.9 1649.3,281.4 1649.3,338.6 1649.3,324.6 1652.1,300.6 1652.1,275.3 1652.1,313.6 1652.1,282.1 1654.9,298.2 1654.9,279 1654.9,331.3 1654.9,317.3 1657.7,312.4 1657.7,270.5 1657.7,273.4 1660.5,274.3 1660.5,308.8 1663.3,273.7 1663.3,306.7 1666.1,286.4 1666.1,333.2 1666.1,285 1666.1,286.6 1668.9,275.5 1668.9,327 1668.9,274.4 1671.7,281.1 1671.7,274.8 1671.7,301.8 1671.7,286.7 1674.5,302 1674.5,277.1 1674.5,323.7 1674.5,307.2 1677.3,285 1677.3,322.8 1677.3,283 1677.3,288.5 1680.1,288.2 1680.1,328.9 1680.1,280.4 1680.1,314.9 1682.9,284.6 1682.9,270.1 1682.9,322 1682.9,294.6 1685.7,306.9 1685.7,275.8 1685.7,317.6 1685.7,283.6 1688.5,282.7 1688.5,319.6 1688.5,294.6 1691.3,303.1 1691.3,290 1691.3,330.2 1694.1,299.3 1694.1,280 1694.1,322.7 1694.1,289 1696.9,281.1 1696.9,321.2 1696.9,275.1 1696.9,281.8 1699.7,275.4 1699.7,320.4 1699.7,273.1 1699.7,297.9 1702.5,283.8 1702.5,281.7 1702.5,317.5 1705.3,321.4 1705.3,330.9 1705.3,274.6 1705.3,295.3 1708.1,294.8 1708.1,323.1 1708.1,269.2 1708.1,281.2 1710.9,281.2 1710.9,329.6 1710.9,281 1710.9,307.4 1713.7,264.3 1713.7,344.8 1713.7,297.9 1716.5,314.6 1716.5,322.2 1716.5,277.9 1716.5,312.3 1719.3,287.6 1719.3,277 1719.3,318.3 1722.1,312.2 1722.1,269.5 1722.1,326.2 1722.1,283.7 1724.9,299.5 1724.9,283.5 1724.9,305.4 1724.9,288.5 1727.7,327.1 1727.7,278.3 1727.7,313.1 1730.5,298.6 1730.5,277.1 1730.5,323.4 1730.5,311.8 1733.3,290.7 1733.3,270.9 1733.3,323.4 1733.3,288.8 1736.1,289.2 1736.1,279.3 1736.1,320.8 1736.1,289.6 1738.9,295.1 1738.9,342.8 1738.9,278.1 1738.9,285.7 1741.7,298.3 1741.7,280.4 1741.7,338.9 1741.7,286.5 1744.5,322 1744.5,336 1744.5,280.4 1744.5,297.3 1747.3,277.8 1747.3,341.7 1747.3,271.5 1747.3,284.1 1750.1,294.2 1750.1,274.6 1750.1,324.2 1752.9,299.7 1752.9,329.6 1752.9,292.2 1752.9,298.3 1755.7,321.8 1755.7,276.4 1755.7,299.5 1758.5,277.6 1758.5,276.2 1758.5,318.4 1761.3,336.4 1761.3,350.4 1761.3,263.8 1764.1,286.3 1764.1,274.2 1764.1,327.2 1766.9,341.9 1766.9,283.4 1766.9,355.9 1766.9,301.6 1769.7,284.3 1769.7,276.3 1769.7,342.2 1769.7,285.7 1772.5,288.9 1772.5,284 1772.5,326.1 1772.5,303.5 1775.3,287.9 1775.3,325.8 1775.3,276 1775.3,286.8 1778.1,288.1 1778.1,340.7 1778.1,274.9 1778.1,291.1 1780.9,303.2 1780.9,329.6 1780.9,283.5 1780.9,310.8 1783.7,311.2 1783.7,318.6 1783.7,272.7 1783.7,294.1 1786.5,294.3 1786.5,323.2 1786.5,276 1786.5,300.3 1789.3,279.7 1789.3,328.6 1789.3,276.1 1789.3,309.4 1792.1,349.7 1792.1,275.3 1792.1,363.7 1792.1,286.6 1794.9,287.5 1794.9,342 1794.9,276 1794.9,300.6 1797.7,320.6 1797.7,283.9 1797.7,334.6 1800.5,304.9 1800.5,273.2 1800.5,343 1800.5,329 1803.3,291.7 1803.3,323.6 1803.3,273.5 1803.3,283.2 1806.1,300.8 1806.1,275 1806.1,318.2 1806.1,286.4 1808.9,289 1808.9,273.9 1808.9,342.1 1808.9,286.6 1811.7,302.3 1811.7,277.6 1811.7,303.9 1811.7,282.9 1814.5,300 1814.5,273.5 1814.5,321.1 1817.3,299.2 1817.3,284.4 1817.3,333.4 1817.3,292 1820.1,323.6 1820.1,337.6 1820.1,264.9 1820.1,298.3 1822.9,301.6 1822.9,338.5 1822.9,283 1822.9,308.2 1825.7,297.6 1825.7,318.1 1825.7,276.5 1828.5,286.9 1828.5,315.3 1828.5,281.1 1828.5,291.4 1831.3,303.6 1831.3,271.2 1831.3,352.4 1831.3,306.9 1834.1,360.1 1834.1,374 1834.1,273.4 1834.1,282 1836.9,283.3 1836.9,327.5 1836.9,272.1 1836.9,278 1839.7,283.6 1839.7,371.1 1839.7,276.4 1839.7,283.2 1842.5,273.1 1842.5,269.9 1842.5,348.3 1845.3,279.3 1845.3,331.5 1845.3,272.5 1845.3,289.3 1848.1,307.1 1848.1,269.4 1848.1,345.9 1850.9,292.8 1850.9,349.3 1850.9,281.6 1850.9,300.9 1853.7,295.6 1853.7,273.4 1853.7,340.7 1856.5,306.7 1856.5,373.7 1856.5,276.4 1856.5,293.5 1859.3,296.7 1859.3,321.9 1859.3,273.8 1859.3,313.6 1862.1,279.7 1862.1,335.3 1862.1,270.5 1862.1,282.7 1864.9,280.2 1864.9,279.5 1864.9,342.6 1864.9,328.6 1867.7,289.2 1867.7,276.1 1867.7,332 1867.7,285.2 1870.5,291.5 1870.5,330.5 1870.5,271.6 1870.5,289.6 1873.3,293.5 1873.3,371.1 1873.3,276.1 1873.3,281.7 1876.1,301.2 1876.1,270.2 1876.1,329 1876.1,279.8 1878.9,277.5 1878.9,337.7 1878.9,268.8 1878.9,311.6 1881.7,305.7 1881.7,272.1 1881.7,335.8 1881.7,286.9 1884.5,305.9 1884.5,268.1 1884.5,327 1887.3,267.4 1887.3,346 1887.3,312.5 1890.1,287.8 1890.1,266.7 1890.1,340.2 1890.1,306.4 1892.9,289.6 1892.9,331.1 1892.9,272.1 1892.9,289.5 1895.7,301.9 1895.7,278 1895.7,338.8 1895.7,285 1898.5,304.9 1898.5,339.9 1898.5,272.4 1898.5,307 1901.3,310 1901.3,330 1901.3,270.2 1901.3,293.3 1904.1,285.3 1904.1,341.8 1904.1,274.1 1904.1,288 1906.9,283.6 1906.9,350.3 1906.9,271.4 1906.9,293.6 1909.7,282 1909.7,339.6 1909.7,269.9 1909.7,294.3 1912.5,332.2 1912.5,261.2 1912.5,339.1 1912.5,283.3 1915.3,316.9 1915.3,275.5 1915.3,330.9 1915.3,287.9 1918.1,320.9 1918.1,346.3 1918.1,268.3 1918.1,281.3 1920.9,278.7 1920.9,328.7 1920.9,273 1920.9,293.3 1923.7,279.8 1923.7,340.2 1923.7,268.3 1923.7,272.1 1926.5,283.9 1926.5,341.9 1926.5,276.2 1926.5,301.3 1929.3,287.1 1929.3,262.3 1929.3,335.8 1929.3,292.1 1932.1,284.8 1932.1,269.4 1932.1,342.8 1934.9,314.8 1934.9,340.6 1934.9,269.3 1934.9,299 1937.7,300.9 1937.7,332.3 1937.7,270.9 1937.7,282.3 1940.5,291.4 1940.5,345 1940.5,272.8 1943.3,273.9 1943.3,267.9 1943.3,343.1 1943.3,288.8 1946.1,288.3 1946.1,352.4 1946.1,281.6 1946.1,305.5 1948.9,293.7 1948.9,267.7 1948.9,356.5 1948.9,327.8 1951.7,283.4 1951.7,342.7 1951.7,268.8 1951.7,314.2 1954.5,323.6 1954.5,269.3 1954.5,346.2 1954.5,309.6 1957.3,320 1957.3,334 1957.3,268.1 1957.3,294.2 1960.1,286.2 1960.1,267.2 1960.1,316.4 1960.1,279.6 1962.9,313.4 1962.9,355.1 1962.9,266.4 1962.9,317.3 1965.7,299.2 1965.7,267.3 1965.7,329.5 1965.7,296.2 1968.5,323.4 1968.5,268.7 1968.5,341.9 1968.5,319.4 1971.3,278.8 1971.3,268.7 1971.3,319.5 1971.3,297.2 1974.1,278.1 1974.1,264.8 1974.1,338.2 1974.1,302.5 1976.9,312.5 1976.9,368 1976.9,259.4 1976.9,296.8 1979.7,272.1 1979.7,332.8 1979.7,267.9 1979.7,280.4 1982.5,268.5 1982.5,264.9 1982.5,349.5 1982.5,290 1985.3,286.7 1985.3,336.7 1985.3,265 1985.3,279.2 1988.1,270 1988.1,269.5 1988.1,326.2 1988.1,277.8 1990.9,335.6 1990.9,272.8 1990.9,289.3 1993.7,278.8 1993.7,265.6 1993.7,348.2 1993.7,304.1 1996.5,297.7 1996.5,327.8 1996.5,258.8 1996.5,291.4 1999.3,293.5 1999.3,260.9 1999.3,344.7 1999.3,267.8 2002.1,283 2002.1,265.3 2002.1,342.5 2002.1,269.9 2004.9,281.8 2004.9,323.7 2004.9,265.5 2004.9,304.8 2007.7,308.3 2007.7,325 2007.7,262.7 2007.7,274.6 2010.5,287.6 2010.5,347.2 2010.5,265.8 2010.5,295.6 2013.3,275.6 2013.3,346.9 2013.3,260.9 2013.3,265.9 2016.1,311.3 2016.1,261.4 2016.1,351.2 2016.1,293.5 2018.9,286.5 2018.9,264.5 2018.9,360.6 2018.9,282.5 2021.7,296.6 2021.7,348.6 2021.7,258.1 2021.7,292.9 2024.5,270.2 2024.5,266.8 2024.5,330.8 2024.5,272.5 2027.3,290.5 2027.3,260.4 2027.3,338.3 2027.3,281.6 2030.1,274.9 2030.1,266.6 2030.1,342.9 2030.1,271.2 2032.9,286.1 2032.9,264.3 2032.9,325.8 2032.9,281.7 2035.7,273.2 2035.7,337.6 2035.7,266.3 2035.7,277.4 2038.5,276.9 2038.5,352.8 2038.5,264.5 2038.5,289.1 2041.3,283.3 2041.3,349.5 2041.3,261.2 2041.3,286.2 2044.1,296.8 2044.1,344 2044.1,263.3 2044.1,297 2046.9,292.1 2046.9,360.6 2046.9,261.3 2046.9,287.7 2049.7,288.9 2049.7,328.9 2049.7,263.1 2049.7,311.6 2052.5,341.7 2052.5,262.4 2052.5,288.4 2055.3,271.4 2055.3,325.5 2055.3,265.5 2055.3,283.8 2058.1,283.5 2058.1,333.3 2058.1,261.3 2058.1,280 2060.9,272.4 2060.9,334.8 2060.9,257.8" stroke-width="3.1"/>
</g>
<rect x="2061.8" y="259" width="2.8" height="168.6" fill="#7FB7DE"/>
<rect x="1358.7" y="45.3" width="2.7" height="382.3" fill="#D95319" fill-opacity="0.68"/>
<rect x="1361.4" y="45.3" width="2.7" height="382.3" fill="#D95319" fill-opacity="0.36"/>
</g>
<g>
<clipPath id="c1"><rect x="231.1" y="578.7" width="1830.7" height="380.9"/></clipPath>
<path d="M232.5 621.1h8.7M2060.4 621.1h-8.7M232.5 609.9h8.7M2060.4 609.9h-8.7M232.5 604.3h8.7M2060.4 604.3h-8.7M232.5 595.9h8.7M2060.4 595.9h-8.7M232.5 593.2h8.7M2060.4 593.2h-8.7M232.5 587.6h8.7M2060.4 587.6h-8.7M232.5 584.8h8.7M2060.4 584.8h-8.7M232.5 582h8.7M2060.4 582h-8.7M232.5 640.6h8.7M2060.4 640.6h-8.7M232.5 685.2h8.7M2060.4 685.2h-8.7M232.5 674.1h8.7M2060.4 674.1h-8.7M232.5 665.7h8.7M2060.4 665.7h-8.7M232.5 660.1h8.7M2060.4 660.1h-8.7M232.5 654.5h8.7M2060.4 654.5h-8.7M232.5 651.8h8.7M2060.4 651.8h-8.7M232.5 646.2h8.7M2060.4 646.2h-8.7M232.5 643.4h8.7M2060.4 643.4h-8.7M232.5 704.8h17.8M2060.4 704.8h-17.8M232.5 749.4h8.7M2060.4 749.4h-8.7M232.5 738.3h8.7M2060.4 738.3h-8.7M232.5 729.9h8.7M2060.4 729.9h-8.7M232.5 724.3h8.7M2060.4 724.3h-8.7M232.5 718.7h8.7M2060.4 718.7h-8.7M232.5 713.1h8.7M2060.4 713.1h-8.7M232.5 710.4h8.7M2060.4 710.4h-8.7M232.5 707.6h8.7M2060.4 707.6h-8.7M232.5 769h8.7M2060.4 769h-8.7M232.5 810.8h8.7M2060.4 810.8h-8.7M232.5 799.6h8.7M2060.4 799.6h-8.7M232.5 794.1h8.7M2060.4 794.1h-8.7M232.5 785.7h8.7M2060.4 785.7h-8.7M232.5 782.9h8.7M2060.4 782.9h-8.7M232.5 777.3h8.7M2060.4 777.3h-8.7M232.5 774.5h8.7M2060.4 774.5h-8.7M232.5 771.7h8.7M2060.4 771.7h-8.7M232.5 830.3h17.8M2060.4 830.3h-17.8M232.5 875h8.7M2060.4 875h-8.7M232.5 863.8h8.7M2060.4 863.8h-8.7M232.5 855.5h8.7M2060.4 855.5h-8.7M232.5 849.9h8.7M2060.4 849.9h-8.7M232.5 844.3h8.7M2060.4 844.3h-8.7M232.5 841.5h8.7M2060.4 841.5h-8.7M232.5 835.9h8.7M2060.4 835.9h-8.7M232.5 833.1h8.7M2060.4 833.1h-8.7M232.5 894.5h8.7M2060.4 894.5h-8.7M232.5 939.2h8.7M2060.4 939.2h-8.7M232.5 928h8.7M2060.4 928h-8.7M232.5 919.6h8.7M2060.4 919.6h-8.7M232.5 914.1h8.7M2060.4 914.1h-8.7M232.5 908.5h8.7M2060.4 908.5h-8.7M232.5 902.9h8.7M2060.4 902.9h-8.7M232.5 900.1h8.7M2060.4 900.1h-8.7M232.5 897.3h8.7M2060.4 897.3h-8.7M358.6 958.2v-8.7M358.6 578.7v8.7M446.9 958.2v-8.7M446.9 578.7v8.7M509.5 958.2v-8.7M509.5 578.7v8.7M558.1 958.2v-8.7M558.1 578.7v8.7M597.8 958.2v-8.7M597.8 578.7v8.7M631.3 958.2v-8.7M631.3 578.7v8.7M660.4 958.2v-8.7M660.4 578.7v8.7M686 958.2v-8.7M686 578.7v8.7M709 958.2v-17.8M709 578.7v17.8M859.8 958.2v-8.7M859.8 578.7v8.7M948.1 958.2v-8.7M948.1 578.7v8.7M1010.7 958.2v-8.7M1010.7 578.7v8.7M1059.3 958.2v-8.7M1059.3 578.7v8.7M1099 958.2v-8.7M1099 578.7v8.7M1132.5 958.2v-8.7M1132.5 578.7v8.7M1161.6 958.2v-8.7M1161.6 578.7v8.7M1187.2 958.2v-8.7M1187.2 578.7v8.7M1210.2 958.2v-17.8M1210.2 578.7v17.8M1361 958.2v-8.7M1361 578.7v8.7M1449.3 958.2v-8.7M1449.3 578.7v8.7M1511.9 958.2v-8.7M1511.9 578.7v8.7M1560.5 958.2v-8.7M1560.5 578.7v8.7M1600.2 958.2v-8.7M1600.2 578.7v8.7M1633.7 958.2v-8.7M1633.7 578.7v8.7M1662.8 958.2v-8.7M1662.8 578.7v8.7M1688.4 958.2v-8.7M1688.4 578.7v8.7M1711.4 958.2v-17.8M1711.4 578.7v17.8M1862.2 958.2v-8.7M1862.2 578.7v8.7M1950.5 958.2v-8.7M1950.5 578.7v8.7M2013.1 958.2v-8.7M2013.1 578.7v8.7" fill="none" stroke="#262626" stroke-width="2.8"/>
<rect x="232.5" y="578.7" width="1827.9" height="379.5" fill="none" stroke="#262626" stroke-width="2.8"/>
<g clip-path="url(#c1)" filter="url(#bl)" fill="none" stroke="#0072BD" stroke-linejoin="round">
<path d="M230.7,669 381.6,700.7 469.8,686.5 532.5,717.1 581,709.9 620.7,733.6 654.3,725 683.3,749 709,771.8 731.9,723.5 752.6,723.5 771.6,736.5 789,738.6 805.1,734.4 820.2,729 834.2,751.8 847.4,730.8 859.8,730.2 871.6,724.2 882.8,748.2 893.4,739.8 903.5,741.6 913.2,724.8 922.5,735 931.3,723 939.9,739.2 948.1,751.2 956,774 963.7,736.8 971,748.8 978.2,758.4 985.1,753.6 991.8,733.8 998.3,741.6 1004.6,750 1010.7,760.3 1016.7,748.3 1022.5,737 1028.1,741.8 1033.7,755.6 1039,755 1044.3,747.8 1049.4,764.5 1054.4,740.6 1059.3,755 1064.1,752.6 1068.8,739.4 1073.3,805.2 1077.8,777.7 1082.2,776.5 1086.5,740.6 1090.8,759.8 1094.9,771.7 1099,766.9 1103,800.4 1106.9,776.5 1110.7,887.6 1114.5,766.9 1118.3,774.1 1121.9,738.2 1125.5,763.3 1129,741.8 1132.5,823.1 1136,761 1139.3,757.4 1142.7,753.8 1145.9,771.7 1149.2,777.7 1152.3,753.8 1155.5,778.9 1158.6,806.4 1161.6,758.6 1164.6,766.9 1167.6,763.3 1170.5,759.8 1173.4,758.6 1176.2,783.7 1179,750.2 1181.8,778.9 1184.5,777.7 1187.2,774.1 1189.9,770.5 1192.5,761 1195.1,752.6 1197.7,762.1 1200.3,766.9 1202.8,776.5 1205.3,808.8 1207.7,756.2 1210.2,777.7 1212.6,786.1 1215,786.1 1217.3,814.7 1219.6,796.2 1221.9,800.4 1224.2,792.5 1226.5,760.3 1228.7,776.8 1230.9,771.7 1233.1,775 1235.3,762.7 1237.4,765 1239.5,772.6 1241.6,766.1 1243.7,773.1 1245.8,756.6 1247.8,761.1 1249.9,782.4 1251.9,772.5 1253.8,775.3 1255.8,783.8" stroke-width="2.7"/>
<path d="M1255.8,783.8 1254.5,783.8 1257.3,847.9 1260.1,759.8 1262.9,786.7 1262.9,778.3 1265.7,781 1268.5,779.7 1268.5,810.3 1271.3,771.5 1274.1,786 1274.1,771.8 1276.9,778.3 1276.9,781.7 1279.7,770.4 1282.5,762 1282.5,775.4 1285.3,784.6 1288.1,779.5 1288.1,774.8 1290.9,781.6 1290.9,766.5 1293.7,766.4 1296.5,771.3 1296.5,790.8 1299.3,767.2 1299.3,764 1302.1,763.4 1302.1,759.7 1304.9,770.4 1307.7,780.2 1307.7,792.3 1310.5,772.7 1310.5,774 1313.3,771.6 1313.3,772.3 1316.1,790.4 1316.1,780.5 1318.9,771.3 1318.9,831 1321.7,791.5 1321.7,787.6 1324.5,794.9 1324.5,771.3 1327.3,781.6 1327.3,804.8 1330.1,783.6 1330.1,810.1 1332.9,769.4 1332.9,819.9 1335.7,764 1335.7,778.3 1338.5,761.1 1338.5,795.5 1341.3,788.8 1341.3,820.5 1344.1,795.6 1344.1,812.7 1346.9,783.4 1346.9,830.9 1349.7,792.8 1349.7,777.4 1352.5,822.1 1352.5,778.7 1352.5,772.5 1355.3,850 1355.3,782 1358.1,773 1358.1,811.5 1360.9,815.3 1360.9,774.1 1360.9,769.4 1363.7,785 1363.7,772.7 1366.5,785.8 1366.5,799.1 1369.3,776.1 1369.3,781.9 1369.3,808 1372.1,783 1372.1,779.7 1374.9,807.4 1374.9,800.2 1374.9,808 1377.7,793.1 1377.7,782.6 1380.5,793.6 1380.5,802.1 1380.5,791.4 1383.3,777.1 1383.3,779.2 1386.1,783.2 1386.1,798.7 1386.1,788.7 1388.9,788.6 1388.9,803 1391.7,772.4 1391.7,792.2 1391.7,781.4 1394.5,789.5 1394.5,804.3 1394.5,778.7 1397.3,820.8 1397.3,771.4 1400.1,790.2 1400.1,789.5 1400.1,778.8 1402.9,790.5 1402.9,787.3 1402.9,786.7 1405.7,798 1405.7,762.5 1405.7,784.6 1408.5,802.5 1408.5,776.1 1408.5,809.4 1411.3,778.9 1411.3,797.1 1411.3,778 1414.1,788.1 1414.1,787.2 1414.1,773.8 1416.9,798.7 1416.9,789.7 1416.9,798.5 1419.7,792.1 1419.7,856.3 1419.7,791.9 1422.5,783.9 1422.5,815.1 1422.5,775.2 1425.3,812.7 1425.3,811.4 1425.3,791.6 1428.1,804.8 1428.1,799.1 1428.1,796.2 1430.9,784.8 1430.9,785.9 1430.9,787.1 1433.7,785.5 1433.7,829 1433.7,787.2 1436.5,788.9 1436.5,790.1 1436.5,809 1436.5,792.5 1439.3,795.5 1439.3,784.8 1439.3,785.7 1442.1,777.6 1442.1,783.7 1442.1,785.5 1444.9,813.1 1444.9,794.3 1444.9,779.4 1444.9,793.1 1447.7,780.1 1447.7,797.2 1447.7,792.7 1450.5,814.5 1450.5,786.4 1450.5,814 1450.5,862.7 1453.3,843.1 1453.3,800.9 1453.3,775.9 1456.1,811 1456.1,787.7 1456.1,790.9 1456.1,782.7 1458.9,813.9 1458.9,780 1458.9,807.1 1461.7,792.7 1461.7,804.2 1461.7,789.2 1461.7,779.8 1464.5,823.7 1464.5,803.4 1464.5,784.8 1464.5,841.1 1467.3,823.7 1467.3,785.6 1467.3,774.7 1467.3,802.1 1470.1,784 1470.1,808.3 1470.1,796.7 1472.9,807.2 1472.9,800.9 1472.9,811.1 1472.9,814.9 1475.7,802.5 1475.7,802.2 1475.7,792.3 1475.7,784.7 1478.5,782.6 1478.5,818.7 1478.5,788.2 1478.5,796.4 1481.3,869 1481.3,804.2 1481.3,800.7 1481.3,819.5 1484.1,797.2 1484.1,794.6 1484.1,806.1 1484.1,811.2 1486.9,828.9 1486.9,793.2 1486.9,823.3 1486.9,892 1489.7,848.8 1489.7,786.1 1489.7,818.2 1492.5,780.4 1492.5,797 1492.5,811.2 1492.5,813.3 1495.3,802.6 1495.3,790.5 1495.3,797.9 1495.3,782.7 1498.1,794.8 1498.1,818.6 1498.1,798.7 1500.9,792.6 1500.9,795.3 1500.9,809.5 1500.9,800.2 1503.7,789.9 1503.7,819.2 1503.7,805.5 1503.7,843 1506.5,804 1506.5,800 1506.5,830.8 1509.3,850.9 1509.3,809.8 1509.3,800.4 1509.3,784.7 1512.1,875 1512.1,782.4 1514.9,799.5 1514.9,847.5 1514.9,811 1517.7,795.5 1517.7,808.1 1517.7,785.7 1517.7,807.6 1520.5,804.7 1520.5,805.9 1520.5,789.5 1520.5,786.3 1523.3,803.4 1523.3,790.9 1523.3,810.5 1523.3,809.6 1526.1,816.5 1526.1,793.6 1526.1,799.4 1528.9,850.8 1528.9,796.6 1528.9,807.1 1531.7,819.8 1531.7,844.2 1531.7,782.9 1531.7,820 1534.5,808.4 1534.5,792.5 1534.5,839.8 1537.3,813.1 1537.3,790.7 1537.3,847.6 1537.3,823.5 1540.1,789.1 1540.1,843.3 1542.9,812.1 1542.9,798.3 1542.9,867 1545.7,813.1 1545.7,828.9 1545.7,789.3 1548.5,823.9 1548.5,788.8 1548.5,814.4 1551.3,793.7 1551.3,852 1551.3,771.9 1551.3,810.5 1554.1,810.7 1554.1,794.1 1554.1,822.9 1556.9,802.7 1556.9,833.9 1556.9,828 1559.7,791.3 1559.7,826.3 1559.7,797.8 1562.5,824.2 1562.5,795 1562.5,853.4 1565.3,813.7 1565.3,806.4 1565.3,825 1565.3,810.8 1568.1,813.2 1568.1,839.9 1568.1,801 1568.1,813.7 1570.9,826.6 1570.9,845 1570.9,795.4 1570.9,810.3 1573.7,804.8 1573.7,859.9 1573.7,794.2 1576.5,801 1576.5,864.8 1576.5,797.5 1576.5,812.5 1579.3,801.3 1579.3,790 1579.3,868.3 1579.3,821.7 1582.1,797.6 1582.1,791.9 1582.1,840.8 1584.9,802.6 1584.9,825 1584.9,795 1587.7,808.8 1587.7,826.1 1587.7,807.2 1587.7,822.5 1590.5,799.5 1590.5,845.1 1590.5,789.5 1590.5,825.6 1593.3,820.6 1593.3,796.5 1593.3,851.3 1593.3,846.2 1596.1,818 1596.1,798.8 1596.1,848.2 1598.9,818.4 1598.9,846.4 1598.9,809.2 1598.9,817.1 1601.7,809.4 1601.7,788.3 1601.7,796.2 1604.5,812.9 1604.5,842.8 1604.5,805.4 1607.3,798.7 1607.3,864.8 1607.3,804.6 1610.1,797.7 1610.1,857.4 1610.1,822.5 1612.9,862.4 1612.9,863.8 1612.9,801 1612.9,816.4 1615.7,818.3 1615.7,834.1 1615.7,795.5 1615.7,800 1618.5,796.6 1618.5,856 1621.3,809.3 1621.3,835.2 1624.1,828.2 1624.1,841 1624.1,807.9 1624.1,826.6 1626.9,834.7 1626.9,796.2 1626.9,843.5 1629.7,835.6 1629.7,839.7 1629.7,796 1629.7,839 1632.5,819.8 1632.5,801.3 1632.5,873.1 1632.5,817.9 1635.3,804.7 1635.3,831.6 1635.3,787.7 1638.1,813.9 1638.1,869 1638.1,805.5 1638.1,823.5 1640.9,810.2 1640.9,844.8 1640.9,797.7 1640.9,807.3 1643.7,828.1 1643.7,789.9 1643.7,829.2 1643.7,817.8 1646.5,823.8 1646.5,801.2 1646.5,839.4 1646.5,801.8 1649.3,809.5 1649.3,838.4 1649.3,799.2 1652.1,799.2 1652.1,838.6 1652.1,788 1652.1,815.7 1654.9,812.5 1654.9,798.3 1654.9,856.3 1654.9,838.4 1657.7,836.4 1657.7,803.1 1657.7,864.1 1657.7,825.1 1660.5,813.2 1660.5,880 1660.5,801.2 1660.5,828.8 1663.3,845.9 1663.3,804.1 1663.3,823.4 1666.1,801.5 1666.1,846.3 1666.1,799.7 1666.1,808.8 1668.9,831.6 1668.9,802.5 1668.9,851.8 1668.9,808.3 1671.7,846.8 1671.7,864.4 1671.7,799.3 1671.7,823.2 1674.5,811.9 1674.5,849.7 1674.5,810.4 1674.5,837.4 1677.3,834.6 1677.3,804.7 1677.3,857 1677.3,816.5 1680.1,834.6 1680.1,860.7 1680.1,798.9 1680.1,845.6 1682.9,827.8 1682.9,802 1682.9,836.8 1682.9,811.7 1685.7,824.2 1685.7,855.9 1685.7,810 1685.7,815.1 1688.5,816.7 1688.5,811.6 1688.5,884.5 1688.5,811.7 1691.3,828.6 1691.3,876.9 1691.3,799.8 1691.3,807.7 1694.1,835 1694.1,801.4 1694.1,893.2 1694.1,827.2 1696.9,840.4 1696.9,809.7 1699.7,836.4 1699.7,801.6 1699.7,890.6 1699.7,840.5 1702.5,834 1702.5,802.2 1702.5,836.6 1702.5,816.9 1705.3,809.8 1705.3,865.5 1705.3,807.8 1705.3,821.8 1708.1,848.1 1708.1,816.4 1708.1,855 1710.9,835 1710.9,813.6 1710.9,902.7 1710.9,820.3 1713.7,828.6 1713.7,812.1 1713.7,846.1 1716.5,831.6 1716.5,832.8 1716.5,805.4 1716.5,819.8 1719.3,820.5 1719.3,890 1719.3,800.6 1719.3,823 1722.1,849.4 1722.1,868.1 1722.1,804.3 1722.1,850.2 1724.9,807.1 1724.9,856.9 1724.9,808.2 1727.7,801.1 1727.7,855.4 1730.5,867.6 1730.5,804.9 1730.5,875.2 1730.5,838.1 1733.3,818.8 1733.3,896.6 1733.3,810.9 1733.3,838.9 1736.1,846 1736.1,806.7 1736.1,850.9 1736.1,818.7 1738.9,818.4 1738.9,801.8 1738.9,855 1738.9,835.3 1741.7,823.6 1741.7,801.6 1741.7,854.6 1741.7,844.9 1744.5,817.9 1744.5,806.1 1744.5,877 1744.5,829.3 1747.3,816.6 1747.3,811.5 1747.3,883 1747.3,844 1750.1,850.8 1750.1,870.9 1750.1,804.4 1750.1,823.2 1752.9,814.1 1752.9,882 1752.9,800.6 1752.9,841 1755.7,811.7 1755.7,877.6 1755.7,805.8 1755.7,831.5 1758.5,814 1758.5,851.9 1758.5,801.8 1758.5,815.4 1761.3,840.9 1761.3,844.7 1761.3,813.3 1764.1,807.9 1764.1,802.4 1764.1,841.2 1764.1,833 1766.9,834.3 1766.9,811.2 1766.9,886.7 1766.9,823.4 1769.7,806.3 1769.7,855.2 1769.7,797.2 1769.7,812.1 1772.5,829.1 1772.5,868.8 1772.5,806.9 1772.5,844.3 1775.3,810.2 1775.3,838.6 1775.3,803.3 1778.1,860.4 1778.1,801.3 1778.1,803.2 1780.9,812.4 1780.9,802.4 1780.9,854.8 1780.9,842.4 1783.7,830.2 1783.7,795.1 1783.7,891 1783.7,832.8 1786.5,808.7 1786.5,800.3 1786.5,883.8 1786.5,826.5 1789.3,807.2 1789.3,866.6 1789.3,806.9 1789.3,809.4 1792.1,804.1 1792.1,894.5 1794.9,824.5 1794.9,795.4 1794.9,852.3 1794.9,833.3 1797.7,842.4 1797.7,805.7 1797.7,869.5 1797.7,821.7 1800.5,851.2 1800.5,806.2 1800.5,806.4 1803.3,811.5 1803.3,866.9 1803.3,795.5 1803.3,861.1 1806.1,878.3 1806.1,796.2 1806.1,813.8 1808.9,819.7 1808.9,893 1808.9,805.4 1808.9,844 1811.7,799.4 1811.7,880.7 1814.5,795.4 1814.5,887 1814.5,851.4 1817.3,816.8 1817.3,873.9 1817.3,809.8 1817.3,827.5 1820.1,813.1 1820.1,866.1 1820.1,801.4 1820.1,826.6 1822.9,818.4 1822.9,805.4 1822.9,874.6 1822.9,874.3 1825.7,823.7 1825.7,801.9 1825.7,845.1 1825.7,836.8 1828.5,817.4 1828.5,853.4 1828.5,806 1828.5,818.1 1831.3,807.4 1831.3,797.9 1831.3,864.2 1831.3,808.7 1834.1,810.8 1834.1,797.5 1834.1,949 1834.1,823 1836.9,821 1836.9,791.3 1836.9,870 1836.9,825.1 1839.7,827.4 1839.7,807.9 1839.7,881.3 1839.7,846.6 1842.5,817.3 1842.5,802.1 1842.5,872 1842.5,806.3 1845.3,817.8 1845.3,844 1845.3,795.1 1845.3,840.9 1848.1,812.4 1848.1,849.8 1848.1,790.8 1848.1,809.9 1850.9,838.3 1850.9,793.4 1850.9,864.4 1850.9,825.7 1853.7,832.3 1853.7,904.5 1853.7,804 1853.7,818.9 1856.5,802.2 1856.5,871.9 1856.5,792.4 1856.5,818.1 1859.3,812.8 1859.3,806.4 1859.3,855.7 1859.3,825.2 1862.1,788.8 1862.1,865.4 1862.1,826.3 1864.9,824.4 1864.9,886.4 1864.9,799.6 1864.9,807.6 1867.7,826.8 1867.7,856.7 1867.7,795.2 1867.7,834 1870.5,811.7 1870.5,796.6 1870.5,860.3 1870.5,835.6 1873.3,815.8 1873.3,861.9 1873.3,799.5 1873.3,803.2 1876.1,854.2 1876.1,788.3 1876.1,862.8 1876.1,828.1 1878.9,836.8 1878.9,801.3 1878.9,854.7 1878.9,807.8 1881.7,835.5 1881.7,797.7 1881.7,870.9 1881.7,811.7 1884.5,831.5 1884.5,847 1884.5,793.6 1884.5,805.6 1887.3,818 1887.3,797.9 1887.3,860.9 1887.3,828.1 1890.1,804.4 1890.1,858.9 1890.1,797.2 1890.1,830.4 1892.9,801.1 1892.9,878.9 1892.9,799.4 1892.9,807.3 1895.7,832.4 1895.7,900 1895.7,795.6 1895.7,809.1 1898.5,800 1898.5,869.1 1898.5,793.9 1898.5,820.5 1901.3,830.2 1901.3,792.4 1901.3,857.6 1901.3,809.4 1904.1,809.1 1904.1,799.1 1904.1,872.2 1904.1,817.6 1906.9,812.2 1906.9,904.5 1906.9,797.3 1906.9,809.5 1909.7,798.9 1909.7,891.8 1909.7,801.5 1912.5,815.3 1912.5,801.4 1912.5,894.1 1915.3,871.7 1915.3,796.3 1915.3,828.8 1918.1,837.8 1918.1,794.8 1918.1,859.1 1918.1,842.3 1920.9,817.3 1920.9,858.7 1920.9,794.8 1920.9,802.4 1923.7,827.6 1923.7,875.8 1923.7,791.2 1926.5,846.1 1926.5,802.3 1926.5,860.9 1926.5,814.3 1929.3,808.9 1929.3,798.1 1929.3,854.1 1932.1,828.3 1932.1,862.4 1932.1,804 1932.1,819.7 1934.9,794 1934.9,791.7 1934.9,859.4 1934.9,826.1 1937.7,830.9 1937.7,852.4 1937.7,796.3 1937.7,848.5 1940.5,840.3 1940.5,874.5 1940.5,799.9 1940.5,836 1943.3,822.9 1943.3,869.2 1943.3,799.2 1943.3,811.2 1946.1,804 1946.1,887.9 1946.1,793 1946.1,799.2 1948.9,812.5 1948.9,863.1 1948.9,791.8 1948.9,828.9 1951.7,826.5 1951.7,893 1951.7,794.1 1951.7,816.9 1954.5,806.5 1954.5,861.8 1954.5,792 1954.5,810.9 1957.3,835.9 1957.3,794.3 1957.3,893 1957.3,813.1 1960.1,798.4 1960.1,787.5 1960.1,886.5 1960.1,808.7 1962.9,808.4 1962.9,904.5 1962.9,797.7 1962.9,814.4 1965.7,836 1965.7,893.2 1965.7,796.3 1965.7,814.9 1968.5,838.3 1968.5,795 1968.5,848.7 1968.5,806.7 1971.3,814.2 1971.3,795.3 1971.3,855.8 1971.3,814.5 1974.1,814.2 1974.1,896.7 1974.1,794.8 1974.1,809.3 1976.9,817.8 1976.9,892.3 1976.9,793.3 1976.9,852.1 1979.7,805.1 1979.7,840.4 1979.7,791.9 1979.7,807 1982.5,810.4 1982.5,858.8 1982.5,793.8 1982.5,814.4 1985.3,797 1985.3,878.5 1985.3,793.8 1985.3,824.3 1988.1,826.6 1988.1,788.6 1988.1,896.7 1988.1,845.7 1990.9,804.7 1990.9,874.4 1990.9,792.3 1990.9,804.1 1993.7,821.9 1993.7,851.7 1993.7,791.9 1993.7,821.8 1996.5,814.5 1996.5,861.8 1996.5,794 1996.5,808 1999.3,840.2 1999.3,867.4 1999.3,793.9 1999.3,831.4 2002.1,823.8 2002.1,866.4 2002.1,793.8 2002.1,839.8 2004.9,808.8 2004.9,794.7 2004.9,891.4 2004.9,798.9 2007.7,813.5 2007.7,862.2 2007.7,798.6 2007.7,806.1 2010.5,794.5 2010.5,873.7 2010.5,821.2 2013.3,876.6 2013.3,792.3 2013.3,799.7 2016.1,829.2 2016.1,883.8 2016.1,792.4 2016.1,837.2 2018.9,838.3 2018.9,794.2 2018.9,860.5 2018.9,805.5 2021.7,813.2 2021.7,847.2 2021.7,795.9 2021.7,806.5 2024.5,837.4 2024.5,886.5 2024.5,781.8 2024.5,841.6 2027.3,806.3 2027.3,868.6 2027.3,795.6 2027.3,807.6 2030.1,809.8 2030.1,910 2030.1,790.6 2030.1,812.9 2032.9,827.9 2032.9,851 2032.9,797.3 2032.9,807.2 2035.7,826.9 2035.7,885 2035.7,792.1 2035.7,797 2038.5,830.9 2038.5,780.6 2038.5,892.8 2038.5,803.2 2041.3,816.2 2041.3,793.9 2041.3,878.3 2041.3,811.3 2044.1,805.9 2044.1,875.8 2044.1,790.4 2044.1,832 2046.9,822.4 2046.9,794.8 2046.9,875.8 2046.9,825.1 2049.7,812.2 2049.7,788.3 2049.7,872.3 2049.7,806.2 2052.5,867.5 2052.5,933 2052.5,783.4 2052.5,814.3 2055.3,793.7 2055.3,856.3 2055.3,791.6 2055.3,829.8 2058.1,868.1 2058.1,790.4 2058.1,818.7 2060.9,798.3 2060.9,842.3 2060.9,793.3 2060.9,841.5" stroke-width="2.8" stroke-opacity="0.7"/>
<path d="M1255.8,783.8 1254.5,783.8 1257.3,790 1260.1,759.8 1262.9,786.7 1262.9,778.3 1265.7,781 1268.5,779.7 1268.5,800.2 1271.3,771.5 1274.1,786 1274.1,771.8 1276.9,778.3 1276.9,781.7 1279.7,770.4 1282.5,762 1282.5,775.4 1285.3,784.6 1288.1,779.5 1288.1,774.8 1290.9,781.6 1290.9,766.5 1293.7,766.4 1296.5,771.3 1296.5,790.8 1299.3,767.2 1299.3,764 1302.1,763.4 1302.1,759.7 1304.9,770.4 1307.7,780.2 1307.7,792.3 1310.5,772.7 1310.5,774 1313.3,771.6 1313.3,772.3 1316.1,790.4 1316.1,780.5 1318.9,771.3 1318.9,805.3 1321.7,791.5 1321.7,787.6 1324.5,794.9 1324.5,771.3 1327.3,781.6 1327.3,803 1330.1,783.6 1330.1,800.6 1332.9,769.4 1332.9,797.7 1335.7,764 1335.7,778.3 1338.5,761.1 1338.5,795.5 1341.3,788.8 1341.3,804.4 1344.1,795.6 1344.1,798.4 1346.9,783.4 1346.9,804.7 1349.7,792.8 1349.7,777.4 1352.5,802.3 1352.5,778.7 1352.5,772.5 1355.3,801 1355.3,782 1358.1,773 1358.1,799.7 1360.9,810.5 1360.9,774.1 1360.9,769.4 1363.7,785 1363.7,772.7 1366.5,785.8 1366.5,799.1 1369.3,776.1 1369.3,781.9 1369.3,807.9 1372.1,783 1372.1,779.7 1374.9,807.4 1374.9,800.2 1374.9,808 1377.7,793.1 1377.7,782.6 1380.5,793.6 1380.5,802.1 1380.5,791.4 1383.3,777.1 1383.3,779.2 1386.1,783.2 1386.1,798.7 1386.1,788.7 1388.9,788.6 1388.9,803 1391.7,772.4 1391.7,792.2 1391.7,781.4 1394.5,789.5 1394.5,804.3 1394.5,778.7 1397.3,806.6 1397.3,771.4 1400.1,790.2 1400.1,789.5 1400.1,778.8 1402.9,790.5 1402.9,787.3 1402.9,786.7 1405.7,798 1405.7,762.5 1405.7,784.6 1408.5,802.5 1408.5,776.1 1408.5,809.4 1411.3,778.9 1411.3,797.1 1411.3,778 1414.1,788.1 1414.1,787.2 1414.1,773.8 1416.9,798.7 1416.9,789.7 1416.9,798.5 1419.7,792.1 1419.7,812.2 1419.7,791.9 1422.5,783.9 1422.5,808.2 1422.5,775.2 1425.3,812.7 1425.3,811.4 1425.3,791.6 1428.1,804.8 1428.1,799.1 1428.1,796.2 1430.9,784.8 1430.9,785.9 1430.9,787.1 1433.7,785.5 1433.7,811.3 1433.7,787.2 1436.5,788.9 1436.5,790.1 1436.5,809 1436.5,792.5 1439.3,795.5 1439.3,784.8 1439.3,785.7 1442.1,777.6 1442.1,783.7 1442.1,785.5 1444.9,813.1 1444.9,794.3 1444.9,779.4 1444.9,793.1 1447.7,780.1 1447.7,797.2 1447.7,792.7 1450.5,814.5 1450.5,786.4 1450.5,814 1450.5,828.5 1453.3,824.4 1453.3,800.9 1453.3,775.9 1456.1,811 1456.1,787.7 1456.1,790.9 1456.1,782.7 1458.9,813.9 1458.9,780 1458.9,807.1 1461.7,792.7 1461.7,804.2 1461.7,789.2 1461.7,779.8 1464.5,823.7 1464.5,803.4 1464.5,784.8 1464.5,837.7 1467.3,823.7 1467.3,785.6 1467.3,774.7 1467.3,802.1 1470.1,784 1470.1,808.3 1470.1,796.7 1472.9,807.2 1472.9,800.9 1472.9,811.1 1472.9,814.9 1475.7,802.5 1475.7,802.2 1475.7,792.3 1475.7,784.7 1478.5,782.6 1478.5,818.7 1478.5,788.2 1478.5,796.4 1481.3,833.5 1481.3,804.2 1481.3,800.7 1481.3,819.5 1484.1,797.2 1484.1,794.6 1484.1,806.1 1484.1,811.2 1486.9,828.9 1486.9,793.2 1486.9,823.3 1486.9,842.9 1489.7,832.2 1489.7,786.1 1489.7,818.2 1492.5,780.4 1492.5,797 1492.5,811.2 1492.5,813.3 1495.3,802.6 1495.3,790.5 1495.3,797.9 1495.3,782.7 1498.1,794.8 1498.1,818.6 1498.1,798.7 1500.9,792.6 1500.9,795.3 1500.9,809.5 1500.9,800.2 1503.7,789.9 1503.7,819.2 1503.7,805.5 1503.7,833.2 1506.5,804 1506.5,800 1506.5,830.8 1509.3,823.8 1509.3,809.8 1509.3,800.4 1509.3,784.7 1512.1,823.3 1512.1,782.4 1514.9,799.5 1514.9,831.5 1514.9,811 1517.7,795.5 1517.7,808.1 1517.7,785.7 1517.7,807.6 1520.5,804.7 1520.5,805.9 1520.5,789.5 1520.5,786.3 1523.3,803.4 1523.3,790.9 1523.3,810.5 1523.3,809.6 1526.1,816.5 1526.1,793.6 1526.1,799.4 1528.9,823.5 1528.9,796.6 1528.9,807.1 1531.7,819.8 1531.7,834 1531.7,782.9 1531.7,820 1534.5,808.4 1534.5,792.5 1534.5,839.8 1537.3,813.1 1537.3,790.7 1537.3,847.6 1537.3,823.5 1540.1,789.1 1540.1,835.7 1542.9,812.1 1542.9,798.3 1542.9,827.5 1545.7,813.1 1545.7,828.9 1545.7,789.3 1548.5,823.9 1548.5,788.8 1548.5,814.4 1551.3,793.7 1551.3,837.5 1551.3,771.9 1551.3,810.5 1554.1,810.7 1554.1,794.1 1554.1,822.9 1556.9,802.7 1556.9,833.9 1556.9,828 1559.7,791.3 1559.7,826.3 1559.7,797.8 1562.5,824.2 1562.5,795 1562.5,838.2 1565.3,813.7 1565.3,806.4 1565.3,825 1565.3,810.8 1568.1,813.2 1568.1,839.9 1568.1,801 1568.1,813.7 1570.9,826.6 1570.9,845 1570.9,795.4 1570.9,810.3 1573.7,804.8 1573.7,837.1 1573.7,794.2 1576.5,801 1576.5,847.5 1576.5,797.5 1576.5,812.5 1579.3,801.3 1579.3,790 1579.3,838.2 1579.3,821.7 1582.1,797.6 1582.1,791.9 1582.1,837.3 1584.9,802.6 1584.9,825 1584.9,795 1587.7,808.8 1587.7,826.1 1587.7,807.2 1587.7,822.5 1590.5,799.5 1590.5,845.1 1590.5,789.5 1590.5,825.6 1593.3,820.6 1593.3,796.5 1593.3,851.3 1593.3,846.2 1596.1,818 1596.1,798.8 1596.1,848.2 1598.9,818.4 1598.9,838 1598.9,809.2 1598.9,817.1 1601.7,809.4 1601.7,788.3 1601.7,796.2 1604.5,812.9 1604.5,842.8 1604.5,805.4 1607.3,798.7 1607.3,851.2 1607.3,804.6 1610.1,797.7 1610.1,857.4 1610.1,822.5 1612.9,862.4 1612.9,863.8 1612.9,801 1612.9,816.4 1615.7,818.3 1615.7,834.1 1615.7,795.5 1615.7,800 1618.5,796.6 1618.5,850.1 1621.3,809.3 1621.3,835.2 1624.1,828.2 1624.1,841 1624.1,807.9 1624.1,826.6 1626.9,834.7 1626.9,796.2 1626.9,843.5 1629.7,835.6 1629.7,839.7 1629.7,796 1629.7,839 1632.5,819.8 1632.5,801.3 1632.5,846.5 1632.5,817.9 1635.3,804.7 1635.3,831.6 1635.3,787.7 1638.1,813.9 1638.1,852.4 1638.1,805.5 1638.1,823.5 1640.9,810.2 1640.9,844.7 1640.9,797.7 1640.9,807.3 1643.7,828.1 1643.7,789.9 1643.7,829.2 1643.7,817.8 1646.5,823.8 1646.5,801.2 1646.5,839.4 1646.5,801.8 1649.3,809.5 1649.3,838.4 1649.3,799.2 1652.1,799.2 1652.1,838.6 1652.1,788 1652.1,815.7 1654.9,812.5 1654.9,798.3 1654.9,852.4 1654.9,838.4 1657.7,836.4 1657.7,803.1 1657.7,852.6 1657.7,825.1 1660.5,813.2 1660.5,860.1 1660.5,801.2 1660.5,828.8 1663.3,845.9 1663.3,804.1 1663.3,823.4 1666.1,801.5 1666.1,846.3 1666.1,799.7 1666.1,808.8 1668.9,831.6 1668.9,802.5 1668.9,851.8 1668.9,808.3 1671.7,846.8 1671.7,864.4 1671.7,799.3 1671.7,823.2 1674.5,811.9 1674.5,849.7 1674.5,810.4 1674.5,837.4 1677.3,834.6 1677.3,804.7 1677.3,857 1677.3,816.5 1680.1,834.6 1680.1,859.6 1680.1,798.9 1680.1,845.6 1682.9,827.8 1682.9,802 1682.9,836.8 1682.9,811.7 1685.7,824.2 1685.7,852.2 1685.7,810 1685.7,815.1 1688.5,816.7 1688.5,811.6 1688.5,854.2 1688.5,811.7 1691.3,828.6 1691.3,851.8 1691.3,799.8 1691.3,807.7 1694.1,835 1694.1,801.4 1694.1,864.7 1694.1,827.2 1696.9,840.4 1696.9,809.7 1699.7,836.4 1699.7,801.6 1699.7,873.7 1699.7,840.5 1702.5,834 1702.5,802.2 1702.5,836.6 1702.5,816.9 1705.3,809.8 1705.3,860.1 1705.3,807.8 1705.3,821.8 1708.1,848.1 1708.1,816.4 1708.1,855 1710.9,835 1710.9,813.6 1710.9,857.1 1710.9,820.3 1713.7,828.6 1713.7,812.1 1713.7,846.1 1716.5,831.6 1716.5,832.8 1716.5,805.4 1716.5,819.8 1719.3,820.5 1719.3,848.6 1719.3,800.6 1719.3,823 1722.1,849.4 1722.1,864.2 1722.1,804.3 1722.1,850.2 1724.9,807.1 1724.9,856.5 1724.9,808.2 1727.7,801.1 1727.7,845.6 1730.5,867.6 1730.5,804.9 1730.5,875.2 1730.5,838.1 1733.3,818.8 1733.3,863.4 1733.3,810.9 1733.3,838.9 1736.1,846 1736.1,806.7 1736.1,850.9 1736.1,818.7 1738.9,818.4 1738.9,801.8 1738.9,851.6 1738.9,835.3 1741.7,823.6 1741.7,801.6 1741.7,854.6 1741.7,844.9 1744.5,817.9 1744.5,806.1 1744.5,862.3 1744.5,829.3 1747.3,816.6 1747.3,811.5 1747.3,872.6 1747.3,844 1750.1,850.8 1750.1,864.8 1750.1,804.4 1750.1,823.2 1752.9,814.1 1752.9,858.7 1752.9,800.6 1752.9,841 1755.7,811.7 1755.7,877.6 1755.7,805.8 1755.7,831.5 1758.5,814 1758.5,851.9 1758.5,801.8 1758.5,815.4 1761.3,840.9 1761.3,844.7 1761.3,813.3 1764.1,807.9 1764.1,802.4 1764.1,841.2 1764.1,833 1766.9,834.3 1766.9,811.2 1766.9,868.1 1766.9,823.4 1769.7,806.3 1769.7,852.3 1769.7,797.2 1769.7,812.1 1772.5,829.1 1772.5,858.3 1772.5,806.9 1772.5,844.3 1775.3,810.2 1775.3,838.6 1775.3,803.3 1778.1,860 1778.1,801.3 1778.1,803.2 1780.9,812.4 1780.9,802.4 1780.9,854.8 1780.9,842.4 1783.7,830.2 1783.7,795.1 1783.7,866.7 1783.7,832.8 1786.5,808.7 1786.5,800.3 1786.5,877.3 1786.5,826.5 1789.3,807.2 1789.3,866.6 1789.3,806.9 1789.3,809.4 1792.1,804.1 1792.1,870.6 1794.9,824.5 1794.9,795.4 1794.9,852.3 1794.9,833.3 1797.7,842.4 1797.7,805.7 1797.7,869.5 1797.7,821.7 1800.5,851.2 1800.5,806.2 1800.5,806.4 1803.3,811.5 1803.3,866.9 1803.3,795.5 1803.3,861.1 1806.1,862.5 1806.1,796.2 1806.1,813.8 1808.9,819.7 1808.9,893 1808.9,805.4 1808.9,844 1811.7,799.4 1811.7,869.1 1814.5,795.4 1814.5,875.1 1814.5,851.4 1817.3,816.8 1817.3,873.9 1817.3,809.8 1817.3,827.5 1820.1,813.1 1820.1,860.7 1820.1,801.4 1820.1,826.6 1822.9,818.4 1822.9,805.4 1822.9,874.6 1822.9,874.3 1825.7,823.7 1825.7,801.9 1825.7,845.1 1825.7,836.8 1828.5,817.4 1828.5,853.4 1828.5,806 1828.5,818.1 1831.3,807.4 1831.3,797.9 1831.3,853.7 1831.3,808.7 1834.1,810.8 1834.1,797.5 1834.1,876.9 1834.1,823 1836.9,821 1836.9,791.3 1836.9,857.2 1836.9,825.1 1839.7,827.4 1839.7,807.9 1839.7,881.3 1839.7,846.6 1842.5,817.3 1842.5,802.1 1842.5,866.6 1842.5,806.3 1845.3,817.8 1845.3,844 1845.3,795.1 1845.3,840.9 1848.1,812.4 1848.1,849.8 1848.1,790.8 1848.1,809.9 1850.9,838.3 1850.9,793.4 1850.9,863.9 1850.9,825.7 1853.7,832.3 1853.7,890 1853.7,804 1853.7,818.9 1856.5,802.2 1856.5,871.9 1856.5,792.4 1856.5,818.1 1859.3,812.8 1859.3,806.4 1859.3,855.7 1859.3,825.2 1862.1,788.8 1862.1,864.9 1862.1,826.3 1864.9,824.4 1864.9,858.8 1864.9,799.6 1864.9,807.6 1867.7,826.8 1867.7,851.9 1867.7,795.2 1867.7,834 1870.5,811.7 1870.5,796.6 1870.5,860.3 1870.5,835.6 1873.3,815.8 1873.3,853.7 1873.3,799.5 1873.3,803.2 1876.1,854.2 1876.1,788.3 1876.1,862.8 1876.1,828.1 1878.9,836.8 1878.9,801.3 1878.9,854.7 1878.9,807.8 1881.7,835.5 1881.7,797.7 1881.7,870.9 1881.7,811.7 1884.5,831.5 1884.5,847 1884.5,793.6 1884.5,805.6 1887.3,818 1887.3,797.9 1887.3,860.9 1887.3,828.1 1890.1,804.4 1890.1,858.1 1890.1,797.2 1890.1,830.4 1892.9,801.1 1892.9,853.3 1892.9,799.4 1892.9,807.3 1895.7,832.4 1895.7,860.1 1895.7,795.6 1895.7,809.1 1898.5,800 1898.5,862.1 1898.5,793.9 1898.5,820.5 1901.3,830.2 1901.3,792.4 1901.3,857.6 1901.3,809.4 1904.1,809.1 1904.1,799.1 1904.1,872.2 1904.1,817.6 1906.9,812.2 1906.9,888.6 1906.9,797.3 1906.9,809.5 1909.7,798.9 1909.7,891.8 1909.7,801.5 1912.5,815.3 1912.5,801.4 1912.5,882.8 1915.3,871.7 1915.3,796.3 1915.3,828.8 1918.1,837.8 1918.1,794.8 1918.1,856.3 1918.1,842.3 1920.9,817.3 1920.9,858.7 1920.9,794.8 1920.9,802.4 1923.7,827.6 1923.7,875.8 1923.7,791.2 1926.5,846.1 1926.5,802.3 1926.5,860.9 1926.5,814.3 1929.3,808.9 1929.3,798.1 1929.3,854.1 1932.1,828.3 1932.1,862.4 1932.1,804 1932.1,819.7 1934.9,794 1934.9,791.7 1934.9,859.4 1934.9,826.1 1937.7,830.9 1937.7,852.4 1937.7,796.3 1937.7,848.5 1940.5,840.3 1940.5,862.2 1940.5,799.9 1940.5,836 1943.3,822.9 1943.3,857.7 1943.3,799.2 1943.3,811.2 1946.1,804 1946.1,883.6 1946.1,793 1946.1,799.2 1948.9,812.5 1948.9,863.1 1948.9,791.8 1948.9,828.9 1951.7,826.5 1951.7,881.7 1951.7,794.1 1951.7,816.9 1954.5,806.5 1954.5,861.8 1954.5,792 1954.5,810.9 1957.3,835.9 1957.3,794.3 1957.3,859.3 1957.3,813.1 1960.1,798.4 1960.1,787.5 1960.1,886.5 1960.1,808.7 1962.9,808.4 1962.9,871 1962.9,797.7 1962.9,814.4 1965.7,836 1965.7,893.2 1965.7,796.3 1965.7,814.9 1968.5,838.3 1968.5,795 1968.5,848.7 1968.5,806.7 1971.3,814.2 1971.3,795.3 1971.3,855.8 1971.3,814.5 1974.1,814.2 1974.1,881.7 1974.1,794.8 1974.1,809.3 1976.9,817.8 1976.9,867.3 1976.9,793.3 1976.9,852.1 1979.7,805.1 1979.7,840.4 1979.7,791.9 1979.7,807 1982.5,810.4 1982.5,858.8 1982.5,793.8 1982.5,814.4 1985.3,797 1985.3,857.4 1985.3,793.8 1985.3,824.3 1988.1,826.6 1988.1,788.6 1988.1,883.7 1988.1,845.7 1990.9,804.7 1990.9,860.5 1990.9,792.3 1990.9,804.1 1993.7,821.9 1993.7,851.7 1993.7,791.9 1993.7,821.8 1996.5,814.5 1996.5,861.8 1996.5,794 1996.5,808 1999.3,840.2 1999.3,867.4 1999.3,793.9 1999.3,831.4 2002.1,823.8 2002.1,866.4 2002.1,793.8 2002.1,839.8 2004.9,808.8 2004.9,794.7 2004.9,881.2 2004.9,798.9 2007.7,813.5 2007.7,862.2 2007.7,798.6 2007.7,806.1 2010.5,794.5 2010.5,873.7 2010.5,821.2 2013.3,876.6 2013.3,792.3 2013.3,799.7 2016.1,829.2 2016.1,873.7 2016.1,792.4 2016.1,837.2 2018.9,838.3 2018.9,794.2 2018.9,860.5 2018.9,805.5 2021.7,813.2 2021.7,847.2 2021.7,795.9 2021.7,806.5 2024.5,837.4 2024.5,882.2 2024.5,781.8 2024.5,841.6 2027.3,806.3 2027.3,863 2027.3,795.6 2027.3,807.6 2030.1,809.8 2030.1,900.1 2030.1,790.6 2030.1,812.9 2032.9,827.9 2032.9,851 2032.9,797.3 2032.9,807.2 2035.7,826.9 2035.7,878.8 2035.7,792.1 2035.7,797 2038.5,830.9 2038.5,780.6 2038.5,871.8 2038.5,803.2 2041.3,816.2 2041.3,793.9 2041.3,855.7 2041.3,811.3 2044.1,805.9 2044.1,875.8 2044.1,790.4 2044.1,832 2046.9,822.4 2046.9,794.8 2046.9,860.7 2046.9,825.1 2049.7,812.2 2049.7,788.3 2049.7,872.3 2049.7,806.2 2052.5,867.5 2052.5,881.5 2052.5,783.4 2052.5,814.3 2055.3,793.7 2055.3,856.3 2055.3,791.6 2055.3,829.8 2058.1,868.1 2058.1,790.4 2058.1,818.7 2060.9,798.3 2060.9,842.3 2060.9,793.3 2060.9,841.5" stroke-width="3.1"/>
</g>
<rect x="2061.8" y="788" width="2.8" height="171.6" fill="#7FB7DE"/>
<rect x="1358.7" y="577.3" width="2.7" height="382.3" fill="#D95319" fill-opacity="0.68"/>
<rect x="1361.4" y="577.3" width="2.7" height="382.3" fill="#D95319" fill-opacity="0.36"/>
</g>
<g>
<clipPath id="c2"><rect x="231.1" y="1110.1" width="1830.7" height="380.8"/></clipPath>
<path d="M232.5 1152.4h8.7M2060.4 1152.4h-8.7M232.5 1141.3h8.7M2060.4 1141.3h-8.7M232.5 1135.7h8.7M2060.4 1135.7h-8.7M232.5 1127.3h8.7M2060.4 1127.3h-8.7M232.5 1124.5h8.7M2060.4 1124.5h-8.7M232.5 1119h8.7M2060.4 1119h-8.7M232.5 1116.2h8.7M2060.4 1116.2h-8.7M232.5 1113.4h8.7M2060.4 1113.4h-8.7M232.5 1172h8.7M2060.4 1172h-8.7M232.5 1216.6h8.7M2060.4 1216.6h-8.7M232.5 1205.4h8.7M2060.4 1205.4h-8.7M232.5 1197.1h8.7M2060.4 1197.1h-8.7M232.5 1191.5h8.7M2060.4 1191.5h-8.7M232.5 1185.9h8.7M2060.4 1185.9h-8.7M232.5 1183.1h8.7M2060.4 1183.1h-8.7M232.5 1177.6h8.7M2060.4 1177.6h-8.7M232.5 1174.8h8.7M2060.4 1174.8h-8.7M232.5 1236.1h17.8M2060.4 1236.1h-17.8M232.5 1280.8h8.7M2060.4 1280.8h-8.7M232.5 1269.6h8.7M2060.4 1269.6h-8.7M232.5 1261.2h8.7M2060.4 1261.2h-8.7M232.5 1255.7h8.7M2060.4 1255.7h-8.7M232.5 1250.1h8.7M2060.4 1250.1h-8.7M232.5 1244.5h8.7M2060.4 1244.5h-8.7M232.5 1241.7h8.7M2060.4 1241.7h-8.7M232.5 1238.9h8.7M2060.4 1238.9h-8.7M232.5 1300.3h8.7M2060.4 1300.3h-8.7M232.5 1342.1h8.7M2060.4 1342.1h-8.7M232.5 1331h8.7M2060.4 1331h-8.7M232.5 1325.4h8.7M2060.4 1325.4h-8.7M232.5 1317h8.7M2060.4 1317h-8.7M232.5 1314.2h8.7M2060.4 1314.2h-8.7M232.5 1308.7h8.7M2060.4 1308.7h-8.7M232.5 1305.9h8.7M2060.4 1305.9h-8.7M232.5 1303.1h8.7M2060.4 1303.1h-8.7M232.5 1361.7h17.8M2060.4 1361.7h-17.8M232.5 1406.3h8.7M2060.4 1406.3h-8.7M232.5 1395.2h8.7M2060.4 1395.2h-8.7M232.5 1386.8h8.7M2060.4 1386.8h-8.7M232.5 1381.2h8.7M2060.4 1381.2h-8.7M232.5 1375.6h8.7M2060.4 1375.6h-8.7M232.5 1372.8h8.7M2060.4 1372.8h-8.7M232.5 1367.3h8.7M2060.4 1367.3h-8.7M232.5 1364.5h8.7M2060.4 1364.5h-8.7M232.5 1425.8h8.7M2060.4 1425.8h-8.7M232.5 1470.5h8.7M2060.4 1470.5h-8.7M232.5 1459.3h8.7M2060.4 1459.3h-8.7M232.5 1450.9h8.7M2060.4 1450.9h-8.7M232.5 1445.4h8.7M2060.4 1445.4h-8.7M232.5 1439.8h8.7M2060.4 1439.8h-8.7M232.5 1434.2h8.7M2060.4 1434.2h-8.7M232.5 1431.4h8.7M2060.4 1431.4h-8.7M232.5 1428.6h8.7M2060.4 1428.6h-8.7M358.6 1489.5v-8.7M358.6 1110.1v8.7M446.9 1489.5v-8.7M446.9 1110.1v8.7M509.5 1489.5v-8.7M509.5 1110.1v8.7M558.1 1489.5v-8.7M558.1 1110.1v8.7M597.8 1489.5v-8.7M597.8 1110.1v8.7M631.3 1489.5v-8.7M631.3 1110.1v8.7M660.4 1489.5v-8.7M660.4 1110.1v8.7M686 1489.5v-8.7M686 1110.1v8.7M709 1489.5v-17.8M709 1110.1v17.8M859.8 1489.5v-8.7M859.8 1110.1v8.7M948.1 1489.5v-8.7M948.1 1110.1v8.7M1010.7 1489.5v-8.7M1010.7 1110.1v8.7M1059.3 1489.5v-8.7M1059.3 1110.1v8.7M1099 1489.5v-8.7M1099 1110.1v8.7M1132.5 1489.5v-8.7M1132.5 1110.1v8.7M1161.6 1489.5v-8.7M1161.6 1110.1v8.7M1187.2 1489.5v-8.7M1187.2 1110.1v8.7M1210.2 1489.5v-17.8M1210.2 1110.1v17.8M1361 1489.5v-8.7M1361 1110.1v8.7M1449.3 1489.5v-8.7M1449.3 1110.1v8.7M1511.9 1489.5v-8.7M1511.9 1110.1v8.7M1560.5 1489.5v-8.7M1560.5 1110.1v8.7M1600.2 1489.5v-8.7M1600.2 1110.1v8.7M1633.7 1489.5v-8.7M1633.7 1110.1v8.7M1662.8 1489.5v-8.7M1662.8 1110.1v8.7M1688.4 1489.5v-8.7M1688.4 1110.1v8.7M1711.4 1489.5v-17.8M1711.4 1110.1v17.8M1862.2 1489.5v-8.7M1862.2 1110.1v8.7M1950.5 1489.5v-8.7M1950.5 1110.1v8.7M2013.1 1489.5v-8.7M2013.1 1110.1v8.7" fill="none" stroke="#262626" stroke-width="2.8"/>
<rect x="232.5" y="1110.1" width="1827.9" height="379.4" fill="none" stroke="#262626" stroke-width="2.8"/>
<g clip-path="url(#c2)" filter="url(#bl)" fill="none" stroke="#0072BD" stroke-linejoin="round">
<path d="M230.7,1157.1 381.6,1160.5 469.8,1175.4 532.5,1209.9 581,1184 620.7,1210.1 654.3,1230.1 683.3,1202 709,1207.8 731.9,1197 752.6,1200.6 771.6,1217.9 789,1266.8 805.1,1206.8 820.2,1238 834.2,1218.2 847.4,1244 859.8,1225.4 871.6,1272.8 882.8,1269.8 893.4,1225.4 903.5,1258.4 913.2,1218.8 922.5,1288.4 931.3,1240.4 939.9,1245.2 948.1,1242.8 956,1280 963.7,1234.4 971,1245.2 978.2,1229 985.1,1234.4 991.8,1253.6 998.3,1234.4 1004.6,1250 1010.7,1237 1016.7,1266 1022.5,1248.6 1028.1,1270.6 1033.7,1286.7 1039,1277.6 1044.3,1243.4 1049.4,1250.4 1054.4,1268.6 1059.3,1303.8 1064.1,1275.6 1068.8,1274.6 1073.3,1263.5 1077.8,1260.5 1082.2,1237.3 1086.5,1264.5 1090.8,1249.4 1094.9,1291.7 1099,1248.4 1103,1280.7 1106.9,1280.7 1110.7,1268.6 1114.5,1258.5 1118.3,1260.5 1121.9,1279.6 1125.5,1276.6 1129,1260.5 1132.5,1272.6 1136,1263.5 1139.3,1262.5 1142.7,1290.7 1145.9,1297.8 1149.2,1280.7 1152.3,1267.5 1155.5,1268.6 1158.6,1277.6 1161.6,1276.6 1164.6,1266.5 1167.6,1259.5 1170.5,1280.7 1173.4,1314.9 1176.2,1308.9 1179,1270.6 1181.8,1286.7 1184.5,1284.7 1187.2,1248.4 1189.9,1280.7 1192.5,1296.8 1195.1,1276.6 1197.7,1300.8 1200.3,1294.8 1202.8,1276.6 1205.3,1275.6 1207.7,1275.6 1210.2,1275.6 1212.6,1300.8 1215,1278.6 1217.3,1277.6 1219.6,1273.6 1221.9,1294.6 1224.2,1297 1226.5,1333.5 1228.7,1285 1230.9,1297.9 1233.1,1313.2 1235.3,1315.5 1237.4,1281.9 1239.5,1298 1241.6,1296.6 1243.7,1292.5 1245.8,1327.7 1247.8,1293.4 1249.9,1290.6 1251.9,1321.6 1253.8,1297.5 1255.8,1286.1" stroke-width="2.7"/>
<path d="M1255.8,1286.1 1254.5,1286.1 1257.3,1286.3 1260.1,1292.4 1262.9,1275.5 1262.9,1296.5 1265.7,1302.2 1268.5,1290.2 1268.5,1309.5 1271.3,1319 1274.1,1294.6 1274.1,1299.7 1276.9,1279.4 1276.9,1275.9 1279.7,1334.6 1282.5,1285.8 1282.5,1283.3 1285.3,1314.7 1288.1,1303.2 1288.1,1279.8 1290.9,1287.1 1290.9,1284.4 1293.7,1285.5 1296.5,1269.4 1296.5,1293.8 1299.3,1286.6 1299.3,1289.5 1302.1,1282.6 1302.1,1279.6 1304.9,1274.6 1307.7,1313 1307.7,1337.7 1310.5,1296.1 1310.5,1281 1313.3,1282.2 1313.3,1281.1 1316.1,1288.5 1316.1,1277.9 1318.9,1287.5 1318.9,1285.1 1321.7,1284.8 1321.7,1301.1 1324.5,1294 1324.5,1294.7 1327.3,1291 1327.3,1297.2 1330.1,1308.5 1330.1,1289.8 1332.9,1280.2 1332.9,1295.8 1335.7,1333.5 1335.7,1309 1338.5,1283 1338.5,1316.4 1341.3,1275.5 1341.3,1298.7 1344.1,1295.4 1344.1,1291.4 1346.9,1318.8 1346.9,1305.8 1349.7,1286.4 1349.7,1297.8 1352.5,1302.3 1352.5,1279.2 1352.5,1283.3 1355.3,1302.2 1355.3,1335.6 1358.1,1297.5 1358.1,1296.2 1360.9,1299.2 1360.9,1291.2 1360.9,1319.1 1363.7,1333.9 1363.7,1298.8 1366.5,1278.9 1366.5,1296.3 1369.3,1313.6 1369.3,1294.1 1369.3,1285.9 1372.1,1289.5 1372.1,1308.8 1374.9,1304.9 1374.9,1293.4 1374.9,1305.2 1377.7,1311.9 1377.7,1336.9 1380.5,1316.9 1380.5,1298.8 1380.5,1315.5 1383.3,1327.7 1383.3,1320.6 1386.1,1312.1 1386.1,1304.8 1386.1,1302.1 1388.9,1319.3 1388.9,1306.6 1391.7,1311.1 1391.7,1293 1391.7,1287.4 1394.5,1294.7 1394.5,1305.5 1394.5,1305.2 1397.3,1292.4 1397.3,1292.2 1400.1,1352.5 1400.1,1286.8 1400.1,1329.7 1402.9,1315.1 1402.9,1306 1402.9,1364.5 1405.7,1310.6 1405.7,1279.7 1405.7,1332.8 1408.5,1300.9 1408.5,1329.1 1408.5,1318.7 1411.3,1291.5 1411.3,1285.6 1411.3,1361 1414.1,1316.9 1414.1,1317.7 1414.1,1295.5 1416.9,1290.9 1416.9,1300.4 1416.9,1318.7 1419.7,1315.3 1419.7,1324.4 1419.7,1342.4 1422.5,1316.3 1422.5,1321.9 1422.5,1284 1425.3,1281.6 1425.3,1324.6 1425.3,1310.4 1428.1,1300.2 1428.1,1292.9 1428.1,1300.6 1430.9,1300.9 1430.9,1306.2 1430.9,1369.4 1433.7,1296.4 1433.7,1291.1 1433.7,1296.6 1436.5,1293.6 1436.5,1292.4 1436.5,1304.1 1436.5,1294 1439.3,1321.1 1439.3,1308.9 1439.3,1306 1442.1,1312.9 1442.1,1298.6 1442.1,1375.8 1444.9,1291.9 1444.9,1302.4 1444.9,1303.3 1444.9,1299.7 1447.7,1301.6 1447.7,1324.6 1447.7,1284.8 1450.5,1306.7 1450.5,1304.5 1450.5,1301.2 1450.5,1318.1 1453.3,1299.4 1453.3,1290.3 1453.3,1297 1456.1,1351.3 1456.1,1303.9 1456.1,1295.4 1456.1,1347.9 1458.9,1315 1458.9,1343.1 1458.9,1303.8 1461.7,1324.2 1461.7,1291 1461.7,1300.9 1461.7,1323.4 1464.5,1310.5 1464.5,1323.2 1464.5,1306.2 1464.5,1330.5 1467.3,1294.3 1467.3,1315.1 1467.3,1299.7 1467.3,1300.2 1470.1,1331.7 1470.1,1308.3 1470.1,1325.6 1472.9,1303.5 1472.9,1320.7 1472.9,1335.2 1472.9,1316 1475.7,1302.1 1475.7,1317.9 1475.7,1343.5 1475.7,1325.4 1478.5,1309.6 1478.5,1308.1 1478.5,1296.8 1478.5,1323.6 1481.3,1299.8 1481.3,1302.2 1481.3,1292.4 1481.3,1300.2 1484.1,1308.1 1484.1,1311.4 1484.1,1300.9 1484.1,1309.7 1486.9,1323.7 1486.9,1297.5 1486.9,1299.5 1486.9,1313.4 1489.7,1336.4 1489.7,1338.5 1489.7,1297.7 1489.7,1333.2 1492.5,1369.2 1492.5,1336.3 1492.5,1314.3 1492.5,1309.3 1495.3,1316.6 1495.3,1326.8 1495.3,1372.7 1495.3,1313.4 1498.1,1313.9 1498.1,1364 1498.1,1306.5 1500.9,1312.6 1500.9,1339.6 1500.9,1305.1 1500.9,1305.9 1503.7,1307.7 1503.7,1333.2 1503.7,1307.9 1503.7,1330.7 1506.5,1342.5 1506.5,1304.4 1506.5,1313.4 1509.3,1331 1509.3,1306.6 1509.3,1319.3 1509.3,1335.5 1512.1,1344.2 1512.1,1295.9 1512.1,1309.7 1514.9,1317.8 1514.9,1308.6 1514.9,1332 1514.9,1321.1 1517.7,1332.5 1517.7,1309.6 1520.5,1302.8 1520.5,1330.3 1520.5,1340.5 1520.5,1297.2 1523.3,1326.4 1523.3,1300.2 1523.3,1341.4 1526.1,1315.4 1526.1,1318.2 1526.1,1309.2 1528.9,1375.8 1528.9,1295.7 1528.9,1325.3 1531.7,1310.3 1531.7,1369.4 1531.7,1302.6 1531.7,1313.2 1534.5,1307.7 1534.5,1354.6 1534.5,1305.9 1534.5,1307.9 1537.3,1334.2 1537.3,1312.6 1537.3,1323.1 1540.1,1313.4 1540.1,1323.4 1540.1,1302.8 1540.1,1323.3 1542.9,1314.1 1542.9,1348.2 1542.9,1317.5 1545.7,1308.8 1545.7,1325.6 1545.7,1310.5 1548.5,1326.6 1548.5,1332.8 1548.5,1298.1 1548.5,1310.6 1551.3,1315.9 1551.3,1358.9 1551.3,1315.3 1551.3,1316.6 1554.1,1352.3 1554.1,1306.2 1554.1,1361 1556.9,1332.9 1556.9,1347.8 1556.9,1319.1 1556.9,1327.8 1559.7,1328.7 1559.7,1327.1 1559.7,1352.7 1559.7,1327.8 1562.5,1344 1562.5,1318.8 1562.5,1339.9 1565.3,1344.7 1565.3,1348.8 1565.3,1316.7 1568.1,1329.6 1568.1,1314.1 1568.1,1349.4 1570.9,1314.2 1570.9,1310.2 1570.9,1341.4 1570.9,1316.1 1573.7,1338.5 1573.7,1306.3 1573.7,1325 1576.5,1333.1 1576.5,1298 1576.5,1315.1 1579.3,1320.5 1579.3,1315.1 1579.3,1379.9 1579.3,1332.1 1582.1,1323 1582.1,1341.8 1582.1,1311.2 1584.9,1324.1 1584.9,1348.8 1584.9,1317.2 1587.7,1312.6 1587.7,1305.9 1587.7,1369.4 1587.7,1306.5 1590.5,1328.6 1590.5,1315.8 1590.5,1371.1 1590.5,1324.1 1593.3,1340.9 1593.3,1311.6 1593.3,1343.1 1593.3,1337.7 1596.1,1379.1 1596.1,1324.1 1596.1,1349.2 1598.9,1323.1 1598.9,1333.4 1598.9,1314.7 1598.9,1318.6 1601.7,1317.8 1601.7,1311.2 1601.7,1361.1 1601.7,1319.5 1604.5,1336.9 1604.5,1313.2 1604.5,1345.4 1607.3,1335.9 1607.3,1350.4 1607.3,1317.5 1607.3,1348.7 1610.1,1345.6 1610.1,1363.3 1610.1,1318.6 1610.1,1327.3 1612.9,1356.3 1612.9,1382 1612.9,1304.7 1612.9,1347.3 1615.7,1313 1615.7,1366.5 1615.7,1308 1618.5,1329.9 1618.5,1374.8 1618.5,1317 1621.3,1328.1 1621.3,1386.3 1621.3,1318.3 1621.3,1384.4 1624.1,1343.9 1624.1,1384.7 1624.1,1310.2 1624.1,1334.3 1626.9,1341.9 1626.9,1314.6 1626.9,1346.2 1626.9,1329.6 1629.7,1329.8 1629.7,1384.7 1629.7,1302.9 1629.7,1332.5 1632.5,1355.2 1632.5,1361.2 1632.5,1314 1632.5,1344.6 1635.3,1329.6 1635.3,1384 1635.3,1314.8 1638.1,1330.6 1638.1,1327.5 1638.1,1368.8 1638.1,1328 1640.9,1334.5 1640.9,1356 1640.9,1308.5 1640.9,1326.7 1643.7,1324 1643.7,1366.3 1643.7,1352 1646.5,1362.8 1646.5,1315.3 1646.5,1326.1 1649.3,1339.6 1649.3,1390 1649.3,1319.3 1652.1,1343.7 1652.1,1345.9 1652.1,1312.6 1652.1,1344.9 1654.9,1343.7 1654.9,1313.9 1654.9,1368.4 1654.9,1327.6 1657.7,1337.5 1657.7,1368.3 1657.7,1320.3 1657.7,1337.4 1660.5,1350.9 1660.5,1324 1663.3,1325.5 1663.3,1319.8 1663.3,1375.8 1666.1,1323.4 1666.1,1351 1666.1,1327.6 1668.9,1327.3 1668.9,1307 1668.9,1349.6 1668.9,1346.1 1671.7,1333.1 1671.7,1369.5 1671.7,1315.2 1671.7,1354.4 1674.5,1325.3 1674.5,1312 1674.5,1361 1674.5,1322.5 1677.3,1374.6 1677.3,1315.5 1677.3,1342.7 1680.1,1351.8 1680.1,1387 1680.1,1324.2 1680.1,1334.2 1682.9,1333.2 1682.9,1315.2 1682.9,1365.3 1685.7,1372.5 1685.7,1315.8 1685.7,1322.9 1688.5,1328 1688.5,1313.6 1688.5,1356.9 1688.5,1339 1691.3,1339.7 1691.3,1360.9 1691.3,1317.9 1691.3,1329.4 1694.1,1327.8 1694.1,1320.9 1694.1,1371.3 1694.1,1327.4 1696.9,1341.9 1696.9,1371 1696.9,1321.7 1699.7,1342.8 1699.7,1405.6 1699.7,1310.6 1699.7,1343.3 1702.5,1337 1702.5,1365.3 1702.5,1315.5 1702.5,1333.9 1705.3,1343.1 1705.3,1393.1 1705.3,1319.1 1705.3,1333.4 1708.1,1351.2 1708.1,1372.4 1708.1,1322.7 1708.1,1328.1 1710.9,1315.1 1710.9,1308.2 1710.9,1351.7 1710.9,1344.1 1713.7,1352.6 1713.7,1357.4 1713.7,1323.8 1716.5,1361.3 1716.5,1314 1716.5,1335.9 1719.3,1359.7 1719.3,1325.7 1719.3,1368.3 1719.3,1348.3 1722.1,1309.9 1722.1,1394.4 1722.1,1337 1724.9,1331.2 1724.9,1318.3 1724.9,1399 1724.9,1340.2 1727.7,1331.7 1727.7,1323.1 1727.7,1351.2 1727.7,1342 1730.5,1330.1 1730.5,1386.3 1730.5,1323.5 1730.5,1330.9 1733.3,1330.3 1733.3,1345 1733.3,1315.9 1733.3,1337.3 1736.1,1341.7 1736.1,1414.5 1736.1,1314.4 1736.1,1327.4 1738.9,1331.2 1738.9,1320.9 1738.9,1358.2 1738.9,1331.7 1741.7,1330.6 1741.7,1320.1 1741.7,1361.9 1741.7,1335.3 1744.5,1347 1744.5,1312.7 1744.5,1365.3 1744.5,1328.6 1747.3,1356.5 1747.3,1405.6 1747.3,1314.4 1747.3,1343.2 1750.1,1331.7 1750.1,1378.8 1750.1,1316.1 1752.9,1348 1752.9,1312.4 1752.9,1351.3 1752.9,1342.6 1755.7,1320 1755.7,1308.7 1755.7,1374.3 1755.7,1335.8 1758.5,1314 1758.5,1433.4 1758.5,1339.9 1761.3,1339.4 1761.3,1388.4 1761.3,1323.9 1761.3,1378.3 1764.1,1343.6 1764.1,1379.1 1764.1,1327.8 1764.1,1370.3 1766.9,1342 1766.9,1315.1 1766.9,1372.7 1766.9,1323.6 1769.7,1332.6 1769.7,1313.9 1769.7,1395.8 1769.7,1373.7 1772.5,1330.1 1772.5,1312.2 1772.5,1358 1772.5,1333 1775.3,1332.9 1775.3,1366.7 1775.3,1321.8 1775.3,1326.7 1778.1,1380.2 1778.1,1325.2 1780.9,1341.5 1780.9,1312 1780.9,1348.1 1780.9,1324.6 1783.7,1322.2 1783.7,1314.8 1783.7,1361 1783.7,1325.4 1786.5,1322.3 1786.5,1369.6 1786.5,1319.1 1786.5,1339.7 1789.3,1334.4 1789.3,1305.2 1789.3,1363.7 1789.3,1319.5 1792.1,1340.9 1792.1,1313.7 1792.1,1410.1 1792.1,1331.5 1794.9,1317.6 1794.9,1396.9 1794.9,1311.6 1794.9,1320.9 1797.7,1364.1 1797.7,1320.8 1797.7,1368.2 1797.7,1341.1 1800.5,1338.2 1800.5,1387.4 1800.5,1316.5 1800.5,1350.4 1803.3,1358.9 1803.3,1397.8 1803.3,1309.9 1803.3,1363.8 1806.1,1327.8 1806.1,1315.4 1806.1,1381.9 1806.1,1332 1808.9,1333.9 1808.9,1314.6 1808.9,1400.7 1808.9,1339.8 1811.7,1355.3 1811.7,1399.9 1811.7,1318.8 1811.7,1357.3 1814.5,1331.1 1814.5,1313.7 1814.5,1403.4 1814.5,1334.4 1817.3,1334.2 1817.3,1312.3 1817.3,1403.6 1817.3,1341.8 1820.1,1320.3 1820.1,1356.7 1820.1,1308.4 1820.1,1329.6 1822.9,1375.6 1822.9,1310.6 1822.9,1355.8 1825.7,1340.5 1825.7,1358 1825.7,1313.4 1825.7,1331.1 1828.5,1332.8 1828.5,1315.4 1828.5,1405.2 1828.5,1346.6 1831.3,1316.8 1831.3,1362.2 1831.3,1330.3 1834.1,1328.2 1834.1,1365 1834.1,1319.1 1834.1,1323.3 1836.9,1325.8 1836.9,1380 1836.9,1316.6 1836.9,1339.1 1839.7,1334.2 1839.7,1311.2 1839.7,1372.8 1839.7,1322.6 1842.5,1334.9 1842.5,1362.7 1842.5,1310.8 1845.3,1341.6 1845.3,1313 1845.3,1373.8 1845.3,1347.1 1848.1,1339.8 1848.1,1362.9 1848.1,1311.6 1848.1,1315.6 1850.9,1351.8 1850.9,1316.2 1850.9,1323.1 1853.7,1314.2 1853.7,1308.9 1853.7,1354.5 1853.7,1344.1 1856.5,1318.2 1856.5,1311.9 1856.5,1391.4 1856.5,1327 1859.3,1327 1859.3,1312 1859.3,1379.8 1862.1,1338.5 1862.1,1310.7 1862.1,1376.4 1862.1,1323.1 1864.9,1377.6 1864.9,1311.6 1864.9,1351.1 1867.7,1333.7 1867.7,1353.5 1867.7,1306.6 1867.7,1330.8 1870.5,1340.5 1870.5,1304 1870.5,1378.1 1870.5,1332.8 1873.3,1329.8 1873.3,1377.6 1873.3,1306.8 1873.3,1323.3 1876.1,1345.8 1876.1,1315.9 1876.1,1385.2 1876.1,1343.5 1878.9,1320.4 1878.9,1308.7 1878.9,1365.4 1878.9,1325 1881.7,1324.2 1881.7,1406.4 1881.7,1310 1884.5,1364 1884.5,1395.9 1884.5,1316.2 1884.5,1326.4 1887.3,1321.2 1887.3,1309.2 1887.3,1364.8 1887.3,1340.1 1890.1,1335.8 1890.1,1411 1890.1,1311.6 1890.1,1378.9 1892.9,1320.2 1892.9,1375.1 1892.9,1307.2 1892.9,1311.3 1895.7,1325.7 1895.7,1397 1895.7,1313 1898.5,1331.7 1898.5,1314.2 1898.5,1398.3 1898.5,1348 1901.3,1352.4 1901.3,1402.2 1901.3,1307.4 1901.3,1325.6 1904.1,1351 1904.1,1367.8 1904.1,1304.2 1904.1,1326.7 1906.9,1341.3 1906.9,1312.9 1906.9,1402.7 1906.9,1333.4 1909.7,1320.9 1909.7,1379.8 1909.7,1303.8 1909.7,1361.8 1912.5,1327.3 1912.5,1306.6 1912.5,1360.7 1912.5,1318.3 1915.3,1333.9 1915.3,1364 1915.3,1306.4 1915.3,1327.9 1918.1,1365 1918.1,1307.6 1918.1,1365.7 1918.1,1323.4 1920.9,1338.3 1920.9,1308.9 1920.9,1388.6 1920.9,1358.9 1923.7,1312.7 1923.7,1378.9 1923.7,1322.1 1926.5,1356.2 1926.5,1394.2 1926.5,1310 1926.5,1335.1 1929.3,1329.9 1929.3,1310 1929.3,1377.8 1929.3,1331.5 1932.1,1308.4 1932.1,1384.1 1932.1,1339.2 1934.9,1363 1934.9,1376.5 1934.9,1311.2 1934.9,1342 1937.7,1318.3 1937.7,1364.4 1937.7,1304.4 1937.7,1325.5 1940.5,1323.1 1940.5,1370.2 1940.5,1310 1940.5,1323.7 1943.3,1297 1943.3,1400.3 1943.3,1306.3 1946.1,1330.8 1946.1,1368.2 1946.1,1307.8 1946.1,1324.6 1948.9,1317.9 1948.9,1308.9 1948.9,1355.2 1948.9,1347.8 1951.7,1303.3 1951.7,1402 1951.7,1322.4 1954.5,1325.9 1954.5,1308.2 1954.5,1383.4 1954.5,1325.5 1957.3,1347.5 1957.3,1308.9 1957.3,1407.4 1957.3,1323.6 1960.1,1317.8 1960.1,1306 1960.1,1367 1960.1,1339.2 1962.9,1309.8 1962.9,1377.2 1962.9,1299.6 1962.9,1325.8 1965.7,1313.5 1965.7,1365.4 1965.7,1306.4 1965.7,1333.8 1968.5,1332.9 1968.5,1298.2 1968.5,1373.7 1968.5,1318.8 1971.3,1336.8 1971.3,1303 1971.3,1404.5 1971.3,1375.8 1974.1,1368.7 1974.1,1400.4 1974.1,1301.8 1974.1,1341.6 1976.9,1311.9 1976.9,1381.2 1976.9,1303.1 1976.9,1332.9 1979.7,1320.2 1979.7,1396.7 1979.7,1294.3 1979.7,1395.7 1982.5,1348.7 1982.5,1400.7 1982.5,1308 1982.5,1333.9 1985.3,1326.5 1985.3,1370.2 1985.3,1302.6 1985.3,1326.6 1988.1,1404.5 1988.1,1303.7 1988.1,1334.1 1990.9,1334.1 1990.9,1370.4 1990.9,1305.5 1990.9,1311.4 1993.7,1346.9 1993.7,1370.2 1993.7,1310.1 1993.7,1324.4 1996.5,1326.6 1996.5,1416.7 1996.5,1298.8 1996.5,1342.6 1999.3,1334 1999.3,1382.1 1999.3,1301.8 1999.3,1340.8 2002.1,1309.3 2002.1,1307.4 2002.1,1423.4 2002.1,1355.2 2004.9,1357.5 2004.9,1378.8 2004.9,1305.2 2004.9,1320.3 2007.7,1348.6 2007.7,1309.5 2007.7,1370.4 2007.7,1363.6 2010.5,1302 2010.5,1391.5 2010.5,1314.8 2013.3,1332 2013.3,1408.7 2013.3,1307.1 2013.3,1333.4 2016.1,1365.9 2016.1,1303.2 2016.1,1369 2016.1,1329.1 2018.9,1333.5 2018.9,1296 2018.9,1384.4 2018.9,1337.5 2021.7,1307.4 2021.7,1363.3 2021.7,1300.3 2021.7,1308.2 2024.5,1335.9 2024.5,1308 2024.5,1375.7 2027.3,1346.7 2027.3,1405.6 2027.3,1303.2 2027.3,1375.8 2030.1,1328.7 2030.1,1306.6 2030.1,1364.5 2030.1,1345.2 2032.9,1310.8 2032.9,1395.8 2032.9,1304 2032.9,1319.7 2035.7,1314.2 2035.7,1362.4 2035.7,1302 2035.7,1323.1 2038.5,1320.7 2038.5,1299.3 2038.5,1380.2 2038.5,1347.8 2041.3,1347 2041.3,1374 2041.3,1306.9 2041.3,1308.3 2044.1,1336.9 2044.1,1382.7 2044.1,1306.4 2044.1,1334.9 2046.9,1321.7 2046.9,1379.7 2046.9,1304.9 2046.9,1348.4 2049.7,1332.2 2049.7,1302.8 2049.7,1368.5 2049.7,1331.6 2052.5,1305.5 2052.5,1297.6 2052.5,1385.5 2052.5,1374.9 2055.3,1316.6 2055.3,1371.7 2055.3,1297.3 2055.3,1337.6 2058.1,1326.8 2058.1,1379 2058.1,1304 2058.1,1327.5 2060.9,1304.8 2060.9,1376.4 2060.9,1325.5" stroke-width="2.8" stroke-opacity="0.7"/>
<path d="M1255.8,1286.1 1254.5,1286.1 1257.3,1286.3 1260.1,1292.4 1262.9,1275.5 1262.9,1296.5 1265.7,1302.2 1268.5,1290.2 1268.5,1309.5 1271.3,1315.6 1274.1,1294.6 1274.1,1299.7 1276.9,1279.4 1276.9,1275.9 1279.7,1308.9 1282.5,1285.8 1282.5,1283.3 1285.3,1314.7 1288.1,1303.2 1288.1,1279.8 1290.9,1287.1 1290.9,1284.4 1293.7,1285.5 1296.5,1269.4 1296.5,1293.8 1299.3,1286.6 1299.3,1289.5 1302.1,1282.6 1302.1,1279.6 1304.9,1274.6 1307.7,1313 1307.7,1320.7 1310.5,1296.1 1310.5,1281 1313.3,1282.2 1313.3,1281.1 1316.1,1288.5 1316.1,1277.9 1318.9,1287.5 1318.9,1285.1 1321.7,1284.8 1321.7,1301.1 1324.5,1294 1324.5,1294.7 1327.3,1291 1327.3,1297.2 1330.1,1308.5 1330.1,1289.8 1332.9,1280.2 1332.9,1295.8 1335.7,1313.5 1335.7,1309 1338.5,1283 1338.5,1316.4 1341.3,1275.5 1341.3,1298.7 1344.1,1295.4 1344.1,1291.4 1346.9,1318.8 1346.9,1305.8 1349.7,1286.4 1349.7,1297.8 1352.5,1302.3 1352.5,1279.2 1352.5,1283.3 1355.3,1302.2 1355.3,1319.3 1358.1,1297.5 1358.1,1296.2 1360.9,1299.2 1360.9,1291.2 1360.9,1315.9 1363.7,1325 1363.7,1298.8 1366.5,1278.9 1366.5,1296.3 1369.3,1313.6 1369.3,1294.1 1369.3,1285.9 1372.1,1289.5 1372.1,1308.8 1374.9,1304.9 1374.9,1293.4 1374.9,1305.2 1377.7,1311.9 1377.7,1321.8 1380.5,1316.9 1380.5,1298.8 1380.5,1315.5 1383.3,1323.2 1383.3,1320.6 1386.1,1312.1 1386.1,1304.8 1386.1,1302.1 1388.9,1318.5 1388.9,1306.6 1391.7,1311.1 1391.7,1293 1391.7,1287.4 1394.5,1294.7 1394.5,1305.5 1394.5,1305.2 1397.3,1292.4 1397.3,1292.2 1400.1,1343.7 1400.1,1286.8 1400.1,1329.7 1402.9,1315.1 1402.9,1306 1402.9,1329.1 1405.7,1310.6 1405.7,1279.7 1405.7,1329.7 1408.5,1300.9 1408.5,1329.1 1408.5,1318.7 1411.3,1291.5 1411.3,1285.6 1411.3,1329.9 1414.1,1316.9 1414.1,1317.7 1414.1,1295.5 1416.9,1290.9 1416.9,1300.4 1416.9,1318.7 1419.7,1315.3 1419.7,1324.4 1419.7,1338.4 1422.5,1316.3 1422.5,1321.9 1422.5,1284 1425.3,1281.6 1425.3,1324.4 1425.3,1310.4 1428.1,1300.2 1428.1,1292.9 1428.1,1300.6 1430.9,1300.9 1430.9,1306.2 1430.9,1327.2 1433.7,1296.4 1433.7,1291.1 1433.7,1296.6 1436.5,1293.6 1436.5,1292.4 1436.5,1304.1 1436.5,1294 1439.3,1321.1 1439.3,1308.9 1439.3,1306 1442.1,1312.9 1442.1,1298.6 1442.1,1326.9 1444.9,1291.9 1444.9,1302.4 1444.9,1303.3 1444.9,1299.7 1447.7,1301.6 1447.7,1324.6 1447.7,1284.8 1450.5,1306.7 1450.5,1304.5 1450.5,1301.2 1450.5,1318.1 1453.3,1299.4 1453.3,1290.3 1453.3,1297 1456.1,1351.3 1456.1,1303.9 1456.1,1295.4 1456.1,1347.9 1458.9,1315 1458.9,1334.4 1458.9,1303.8 1461.7,1324.2 1461.7,1291 1461.7,1300.9 1461.7,1323.4 1464.5,1310.5 1464.5,1323.2 1464.5,1306.2 1464.5,1330.5 1467.3,1294.3 1467.3,1315.1 1467.3,1299.7 1467.3,1300.2 1470.1,1331.7 1470.1,1308.3 1470.1,1325.6 1472.9,1303.5 1472.9,1320.7 1472.9,1334.7 1472.9,1316 1475.7,1302.1 1475.7,1317.9 1475.7,1339.4 1475.7,1325.4 1478.5,1309.6 1478.5,1308.1 1478.5,1296.8 1478.5,1323.6 1481.3,1299.8 1481.3,1302.2 1481.3,1292.4 1481.3,1300.2 1484.1,1308.1 1484.1,1311.4 1484.1,1300.9 1484.1,1309.7 1486.9,1323.7 1486.9,1297.5 1486.9,1299.5 1486.9,1313.4 1489.7,1336.4 1489.7,1338.5 1489.7,1297.7 1489.7,1333.2 1492.5,1350.3 1492.5,1336.3 1492.5,1314.3 1492.5,1309.3 1495.3,1316.6 1495.3,1326.8 1495.3,1340.8 1495.3,1313.4 1498.1,1313.9 1498.1,1337.2 1498.1,1306.5 1500.9,1312.6 1500.9,1339.6 1500.9,1305.1 1500.9,1305.9 1503.7,1307.7 1503.7,1333.2 1503.7,1307.9 1503.7,1330.7 1506.5,1342.5 1506.5,1304.4 1506.5,1313.4 1509.3,1331 1509.3,1306.6 1509.3,1319.3 1509.3,1335.5 1512.1,1341 1512.1,1295.9 1512.1,1309.7 1514.9,1317.8 1514.9,1308.6 1514.9,1332 1514.9,1321.1 1517.7,1332.5 1517.7,1309.6 1520.5,1302.8 1520.5,1330.3 1520.5,1340.5 1520.5,1297.2 1523.3,1326.4 1523.3,1300.2 1523.3,1341.4 1526.1,1315.4 1526.1,1318.2 1526.1,1309.2 1528.9,1345.3 1528.9,1295.7 1528.9,1325.3 1531.7,1310.3 1531.7,1346.8 1531.7,1302.6 1531.7,1313.2 1534.5,1307.7 1534.5,1342.2 1534.5,1305.9 1534.5,1307.9 1537.3,1334.2 1537.3,1312.6 1537.3,1323.1 1540.1,1313.4 1540.1,1323.4 1540.1,1302.8 1540.1,1323.3 1542.9,1314.1 1542.9,1348.2 1542.9,1317.5 1545.7,1308.8 1545.7,1325.6 1545.7,1310.5 1548.5,1326.6 1548.5,1332.8 1548.5,1298.1 1548.5,1310.6 1551.3,1315.9 1551.3,1347.1 1551.3,1315.3 1551.3,1316.6 1554.1,1352.3 1554.1,1306.2 1554.1,1361 1556.9,1332.9 1556.9,1347.8 1556.9,1319.1 1556.9,1327.8 1559.7,1328.7 1559.7,1327.1 1559.7,1347.7 1559.7,1327.8 1562.5,1344 1562.5,1318.8 1562.5,1339.9 1565.3,1344.7 1565.3,1348.8 1565.3,1316.7 1568.1,1329.6 1568.1,1314.1 1568.1,1349.4 1570.9,1314.2 1570.9,1310.2 1570.9,1341.4 1570.9,1316.1 1573.7,1338.5 1573.7,1306.3 1573.7,1325 1576.5,1333.1 1576.5,1298 1576.5,1315.1 1579.3,1320.5 1579.3,1315.1 1579.3,1346.1 1579.3,1332.1 1582.1,1323 1582.1,1341.8 1582.1,1311.2 1584.9,1324.1 1584.9,1348.8 1584.9,1317.2 1587.7,1312.6 1587.7,1305.9 1587.7,1366.8 1587.7,1306.5 1590.5,1328.6 1590.5,1315.8 1590.5,1371.1 1590.5,1324.1 1593.3,1340.9 1593.3,1311.6 1593.3,1343.1 1593.3,1337.7 1596.1,1369.9 1596.1,1324.1 1596.1,1349.2 1598.9,1323.1 1598.9,1333.4 1598.9,1314.7 1598.9,1318.6 1601.7,1317.8 1601.7,1311.2 1601.7,1357.4 1601.7,1319.5 1604.5,1336.9 1604.5,1313.2 1604.5,1345.4 1607.3,1335.9 1607.3,1350.4 1607.3,1317.5 1607.3,1348.7 1610.1,1345.6 1610.1,1359.6 1610.1,1318.6 1610.1,1327.3 1612.9,1356.3 1612.9,1370.3 1612.9,1304.7 1612.9,1347.3 1615.7,1313 1615.7,1356.9 1615.7,1308 1618.5,1329.9 1618.5,1366.9 1618.5,1317 1621.3,1328.1 1621.3,1386.3 1621.3,1318.3 1621.3,1384.4 1624.1,1343.9 1624.1,1366.7 1624.1,1310.2 1624.1,1334.3 1626.9,1341.9 1626.9,1314.6 1626.9,1346.2 1626.9,1329.6 1629.7,1329.8 1629.7,1374.8 1629.7,1302.9 1629.7,1332.5 1632.5,1355.2 1632.5,1361.2 1632.5,1314 1632.5,1344.6 1635.3,1329.6 1635.3,1356.1 1635.3,1314.8 1638.1,1330.6 1638.1,1327.5 1638.1,1368.8 1638.1,1328 1640.9,1334.5 1640.9,1354.7 1640.9,1308.5 1640.9,1326.7 1643.7,1324 1643.7,1366.3 1643.7,1352 1646.5,1354.9 1646.5,1315.3 1646.5,1326.1 1649.3,1339.6 1649.3,1390 1649.3,1319.3 1652.1,1343.7 1652.1,1345.9 1652.1,1312.6 1652.1,1344.9 1654.9,1343.7 1654.9,1313.9 1654.9,1368.4 1654.9,1327.6 1657.7,1337.5 1657.7,1368.3 1657.7,1320.3 1657.7,1337.4 1660.5,1350.9 1660.5,1324 1663.3,1325.5 1663.3,1319.8 1663.3,1373.8 1666.1,1323.4 1666.1,1351 1666.1,1327.6 1668.9,1327.3 1668.9,1307 1668.9,1349.6 1668.9,1346.1 1671.7,1333.1 1671.7,1369.5 1671.7,1315.2 1671.7,1354.4 1674.5,1325.3 1674.5,1312 1674.5,1361 1674.5,1322.5 1677.3,1374.6 1677.3,1315.5 1677.3,1342.7 1680.1,1351.8 1680.1,1375.3 1680.1,1324.2 1680.1,1334.2 1682.9,1333.2 1682.9,1315.2 1682.9,1365.3 1685.7,1362.6 1685.7,1315.8 1685.7,1322.9 1688.5,1328 1688.5,1313.6 1688.5,1356.9 1688.5,1339 1691.3,1339.7 1691.3,1360.9 1691.3,1317.9 1691.3,1329.4 1694.1,1327.8 1694.1,1320.9 1694.1,1371.3 1694.1,1327.4 1696.9,1341.9 1696.9,1371 1696.9,1321.7 1699.7,1342.8 1699.7,1384.9 1699.7,1310.6 1699.7,1343.3 1702.5,1337 1702.5,1365.3 1702.5,1315.5 1702.5,1333.9 1705.3,1343.1 1705.3,1375.2 1705.3,1319.1 1705.3,1333.4 1708.1,1351.2 1708.1,1367.9 1708.1,1322.7 1708.1,1328.1 1710.9,1315.1 1710.9,1308.2 1710.9,1351.7 1710.9,1344.1 1713.7,1352.6 1713.7,1357.4 1713.7,1323.8 1716.5,1361.3 1716.5,1314 1716.5,1335.9 1719.3,1359.7 1719.3,1325.7 1719.3,1368.3 1719.3,1348.3 1722.1,1309.9 1722.1,1364.7 1722.1,1337 1724.9,1331.2 1724.9,1318.3 1724.9,1362.3 1724.9,1340.2 1727.7,1331.7 1727.7,1323.1 1727.7,1351.2 1727.7,1342 1730.5,1330.1 1730.5,1386.3 1730.5,1323.5 1730.5,1330.9 1733.3,1330.3 1733.3,1345 1733.3,1315.9 1733.3,1337.3 1736.1,1341.7 1736.1,1395.9 1736.1,1314.4 1736.1,1327.4 1738.9,1331.2 1738.9,1320.9 1738.9,1358.2 1738.9,1331.7 1741.7,1330.6 1741.7,1320.1 1741.7,1361.9 1741.7,1335.3 1744.5,1347 1744.5,1312.7 1744.5,1365.3 1744.5,1328.6 1747.3,1356.5 1747.3,1380.1 1747.3,1314.4 1747.3,1343.2 1750.1,1331.7 1750.1,1378.8 1750.1,1316.1 1752.9,1348 1752.9,1312.4 1752.9,1351.3 1752.9,1342.6 1755.7,1320 1755.7,1308.7 1755.7,1374.3 1755.7,1335.8 1758.5,1314 1758.5,1372.5 1758.5,1339.9 1761.3,1339.4 1761.3,1388.4 1761.3,1323.9 1761.3,1378.3 1764.1,1343.6 1764.1,1379.1 1764.1,1327.8 1764.1,1370.3 1766.9,1342 1766.9,1315.1 1766.9,1366 1766.9,1323.6 1769.7,1332.6 1769.7,1313.9 1769.7,1387.7 1769.7,1373.7 1772.5,1330.1 1772.5,1312.2 1772.5,1358 1772.5,1333 1775.3,1332.9 1775.3,1362.9 1775.3,1321.8 1775.3,1326.7 1778.1,1380.2 1778.1,1325.2 1780.9,1341.5 1780.9,1312 1780.9,1348.1 1780.9,1324.6 1783.7,1322.2 1783.7,1314.8 1783.7,1361 1783.7,1325.4 1786.5,1322.3 1786.5,1369.6 1786.5,1319.1 1786.5,1339.7 1789.3,1334.4 1789.3,1305.2 1789.3,1363.7 1789.3,1319.5 1792.1,1340.9 1792.1,1313.7 1792.1,1408.5 1792.1,1331.5 1794.9,1317.6 1794.9,1368.1 1794.9,1311.6 1794.9,1320.9 1797.7,1364.1 1797.7,1320.8 1797.7,1368.2 1797.7,1341.1 1800.5,1338.2 1800.5,1378.3 1800.5,1316.5 1800.5,1350.4 1803.3,1358.9 1803.3,1377.8 1803.3,1309.9 1803.3,1363.8 1806.1,1327.8 1806.1,1315.4 1806.1,1381.5 1806.1,1332 1808.9,1333.9 1808.9,1314.6 1808.9,1386.9 1808.9,1339.8 1811.7,1355.3 1811.7,1388.2 1811.7,1318.8 1811.7,1357.3 1814.5,1331.1 1814.5,1313.7 1814.5,1403.4 1814.5,1334.4 1817.3,1334.2 1817.3,1312.3 1817.3,1403.6 1817.3,1341.8 1820.1,1320.3 1820.1,1356.7 1820.1,1308.4 1820.1,1329.6 1822.9,1369.8 1822.9,1310.6 1822.9,1355.8 1825.7,1340.5 1825.7,1358 1825.7,1313.4 1825.7,1331.1 1828.5,1332.8 1828.5,1315.4 1828.5,1398.4 1828.5,1346.6 1831.3,1316.8 1831.3,1362.2 1831.3,1330.3 1834.1,1328.2 1834.1,1365 1834.1,1319.1 1834.1,1323.3 1836.9,1325.8 1836.9,1380 1836.9,1316.6 1836.9,1339.1 1839.7,1334.2 1839.7,1311.2 1839.7,1372.8 1839.7,1322.6 1842.5,1334.9 1842.5,1362.7 1842.5,1310.8 1845.3,1341.6 1845.3,1313 1845.3,1373.8 1845.3,1347.1 1848.1,1339.8 1848.1,1362.9 1848.1,1311.6 1848.1,1315.6 1850.9,1351.8 1850.9,1316.2 1850.9,1323.1 1853.7,1314.2 1853.7,1308.9 1853.7,1354.5 1853.7,1344.1 1856.5,1318.2 1856.5,1311.9 1856.5,1373.9 1856.5,1327 1859.3,1327 1859.3,1312 1859.3,1379.8 1862.1,1338.5 1862.1,1310.7 1862.1,1376.4 1862.1,1323.1 1864.9,1377.6 1864.9,1311.6 1864.9,1351.1 1867.7,1333.7 1867.7,1353.5 1867.7,1306.6 1867.7,1330.8 1870.5,1340.5 1870.5,1304 1870.5,1369.7 1870.5,1332.8 1873.3,1329.8 1873.3,1377.6 1873.3,1306.8 1873.3,1323.3 1876.1,1345.8 1876.1,1315.9 1876.1,1369.2 1876.1,1343.5 1878.9,1320.4 1878.9,1308.7 1878.9,1362.8 1878.9,1325 1881.7,1324.2 1881.7,1396.8 1881.7,1310 1884.5,1364 1884.5,1378 1884.5,1316.2 1884.5,1326.4 1887.3,1321.2 1887.3,1309.2 1887.3,1364.8 1887.3,1340.1 1890.1,1335.8 1890.1,1392.9 1890.1,1311.6 1890.1,1378.9 1892.9,1320.2 1892.9,1375.1 1892.9,1307.2 1892.9,1311.3 1895.7,1325.7 1895.7,1385.6 1895.7,1313 1898.5,1331.7 1898.5,1314.2 1898.5,1390.5 1898.5,1348 1901.3,1352.4 1901.3,1375.8 1901.3,1307.4 1901.3,1325.6 1904.1,1351 1904.1,1367.8 1904.1,1304.2 1904.1,1326.7 1906.9,1341.3 1906.9,1312.9 1906.9,1390.8 1906.9,1333.4 1909.7,1320.9 1909.7,1379.8 1909.7,1303.8 1909.7,1361.8 1912.5,1327.3 1912.5,1306.6 1912.5,1360.7 1912.5,1318.3 1915.3,1333.9 1915.3,1364 1915.3,1306.4 1915.3,1327.9 1918.1,1365 1918.1,1307.6 1918.1,1365.7 1918.1,1323.4 1920.9,1338.3 1920.9,1308.9 1920.9,1376.9 1920.9,1358.9 1923.7,1312.7 1923.7,1378.9 1923.7,1322.1 1926.5,1356.2 1926.5,1394.2 1926.5,1310 1926.5,1335.1 1929.3,1329.9 1929.3,1310 1929.3,1377.8 1929.3,1331.5 1932.1,1308.4 1932.1,1384.1 1932.1,1339.2 1934.9,1363 1934.9,1376.5 1934.9,1311.2 1934.9,1342 1937.7,1318.3 1937.7,1364.4 1937.7,1304.4 1937.7,1325.5 1940.5,1323.1 1940.5,1370.2 1940.5,1310 1940.5,1323.7 1943.3,1297 1943.3,1375.6 1943.3,1306.3 1946.1,1330.8 1946.1,1368.2 1946.1,1307.8 1946.1,1324.6 1948.9,1317.9 1948.9,1308.9 1948.9,1355.2 1948.9,1347.8 1951.7,1303.3 1951.7,1390.9 1951.7,1322.4 1954.5,1325.9 1954.5,1308.2 1954.5,1380.8 1954.5,1325.5 1957.3,1347.5 1957.3,1308.9 1957.3,1407.4 1957.3,1323.6 1960.1,1317.8 1960.1,1306 1960.1,1367 1960.1,1339.2 1962.9,1309.8 1962.9,1377.2 1962.9,1299.6 1962.9,1325.8 1965.7,1313.5 1965.7,1365.4 1965.7,1306.4 1965.7,1333.8 1968.5,1332.9 1968.5,1298.2 1968.5,1361.9 1968.5,1318.8 1971.3,1336.8 1971.3,1303 1971.3,1404.5 1971.3,1375.8 1974.1,1368.7 1974.1,1388 1974.1,1301.8 1974.1,1341.6 1976.9,1311.9 1976.9,1381.2 1976.9,1303.1 1976.9,1332.9 1979.7,1320.2 1979.7,1396.7 1979.7,1294.3 1979.7,1395.7 1982.5,1348.7 1982.5,1374.9 1982.5,1308 1982.5,1333.9 1985.3,1326.5 1985.3,1370.2 1985.3,1302.6 1985.3,1326.6 1988.1,1390.5 1988.1,1303.7 1988.1,1334.1 1990.9,1334.1 1990.9,1367.5 1990.9,1305.5 1990.9,1311.4 1993.7,1346.9 1993.7,1370.2 1993.7,1310.1 1993.7,1324.4 1996.5,1326.6 1996.5,1387 1996.5,1298.8 1996.5,1342.6 1999.3,1334 1999.3,1382.1 1999.3,1301.8 1999.3,1340.8 2002.1,1309.3 2002.1,1307.4 2002.1,1407.7 2002.1,1355.2 2004.9,1357.5 2004.9,1378.8 2004.9,1305.2 2004.9,1320.3 2007.7,1348.6 2007.7,1309.5 2007.7,1370.4 2007.7,1363.6 2010.5,1302 2010.5,1391.5 2010.5,1314.8 2013.3,1332 2013.3,1406.6 2013.3,1307.1 2013.3,1333.4 2016.1,1365.9 2016.1,1303.2 2016.1,1369 2016.1,1329.1 2018.9,1333.5 2018.9,1296 2018.9,1369.4 2018.9,1337.5 2021.7,1307.4 2021.7,1363.3 2021.7,1300.3 2021.7,1308.2 2024.5,1335.9 2024.5,1308 2024.5,1375.7 2027.3,1346.7 2027.3,1389.8 2027.3,1303.2 2027.3,1375.8 2030.1,1328.7 2030.1,1306.6 2030.1,1364.5 2030.1,1345.2 2032.9,1310.8 2032.9,1385.1 2032.9,1304 2032.9,1319.7 2035.7,1314.2 2035.7,1362.4 2035.7,1302 2035.7,1323.1 2038.5,1320.7 2038.5,1299.3 2038.5,1380.2 2038.5,1347.8 2041.3,1347 2041.3,1374 2041.3,1306.9 2041.3,1308.3 2044.1,1336.9 2044.1,1382.7 2044.1,1306.4 2044.1,1334.9 2046.9,1321.7 2046.9,1379.7 2046.9,1304.9 2046.9,1348.4 2049.7,1332.2 2049.7,1302.8 2049.7,1368.5 2049.7,1331.6 2052.5,1305.5 2052.5,1297.6 2052.5,1385.5 2052.5,1374.9 2055.3,1316.6 2055.3,1371.7 2055.3,1297.3 2055.3,1337.6 2058.1,1326.8 2058.1,1379 2058.1,1304 2058.1,1327.5 2060.9,1304.8 2060.9,1367.6 2060.9,1325.5" stroke-width="3.1"/>
</g>
<rect x="2061.8" y="1295" width="2.8" height="175" fill="#7FB7DE"/>
<rect x="1358.7" y="1108.7" width="2.7" height="382.2" fill="#D95319" fill-opacity="0.68"/>
<rect x="1361.4" y="1108.7" width="2.7" height="382.2" fill="#D95319" fill-opacity="0.36"/>
</g>
<g filter="url(#tb)" stroke="#fff" stroke-width="1" stroke-linejoin="round">
<text transform="translate(219 72.3) scale(0.963 1)" text-anchor="end" font-size="58.4" fill="#262626">10<tspan dy="-22.6" font-size="46.4">0</tspan></text>
<text transform="translate(215.5 198.8) scale(0.963 1)" text-anchor="end" font-size="58.4" fill="#262626">10<tspan dx="-1.5" dy="-19.6" font-size="46.4">-</tspan><tspan dy="-3" font-size="46.4">1</tspan></text>
<text transform="translate(215.5 325.3) scale(0.963 1)" text-anchor="end" font-size="58.4" fill="#262626">10<tspan dx="-1.5" dy="-19.6" font-size="46.4">-</tspan><tspan dy="-3" font-size="46.4">3</tspan></text>
<text transform="translate(215.5 451.8) scale(0.963 1)" text-anchor="end" font-size="58.4" fill="#262626">10<tspan dx="-1.5" dy="-19.6" font-size="46.4">-</tspan><tspan dy="-3" font-size="46.4">5</tspan></text>
<text transform="translate(75.7 227.9) rotate(-90) scale(0.963 1)" text-anchor="middle" font-size="58.4" fill="#262626">Amp. (cm)</text>
<text transform="translate(1605 115.5) scale(0.963 1)" text-anchor="start" font-size="58.4" fill="#000">E direction</text>
<text transform="translate(1390.5 194.7) scale(0.963 1)" text-anchor="start" font-size="58.4" fill="#FF0000">0.2Hz</text>
<text transform="translate(219 604.3) scale(0.963 1)" text-anchor="end" font-size="58.4" fill="#262626">10<tspan dy="-22.6" font-size="46.4">0</tspan></text>
<text transform="translate(215.5 730.8) scale(0.963 1)" text-anchor="end" font-size="58.4" fill="#262626">10<tspan dx="-1.5" dy="-19.6" font-size="46.4">-</tspan><tspan dy="-3" font-size="46.4">1</tspan></text>
<text transform="translate(215.5 857.3) scale(0.963 1)" text-anchor="end" font-size="58.4" fill="#262626">10<tspan dx="-1.5" dy="-19.6" font-size="46.4">-</tspan><tspan dy="-3" font-size="46.4">3</tspan></text>
<text transform="translate(215.5 983.8) scale(0.963 1)" text-anchor="end" font-size="58.4" fill="#262626">10<tspan dx="-1.5" dy="-19.6" font-size="46.4">-</tspan><tspan dy="-3" font-size="46.4">5</tspan></text>
<text transform="translate(75.7 760) rotate(-90) scale(0.963 1)" text-anchor="middle" font-size="58.4" fill="#262626">Amp. (cm)</text>
<text transform="translate(1605 644.6) scale(0.963 1)" text-anchor="start" font-size="58.4" fill="#000">N direction</text>
<text transform="translate(1390.5 726) scale(0.963 1)" text-anchor="start" font-size="58.4" fill="#FF0000">0.2Hz</text>
<text transform="translate(219 1135.7) scale(0.963 1)" text-anchor="end" font-size="58.4" fill="#262626">10<tspan dy="-22.6" font-size="46.4">0</tspan></text>
<text transform="translate(215.5 1262.2) scale(0.963 1)" text-anchor="end" font-size="58.4" fill="#262626">10<tspan dx="-1.5" dy="-19.6" font-size="46.4">-</tspan><tspan dy="-3" font-size="46.4">1</tspan></text>
<text transform="translate(215.5 1388.6) scale(0.963 1)" text-anchor="end" font-size="58.4" fill="#262626">10<tspan dx="-1.5" dy="-19.6" font-size="46.4">-</tspan><tspan dy="-3" font-size="46.4">3</tspan></text>
<text transform="translate(215.5 1515.1) scale(0.963 1)" text-anchor="end" font-size="58.4" fill="#262626">10<tspan dx="-1.5" dy="-19.6" font-size="46.4">-</tspan><tspan dy="-3" font-size="46.4">5</tspan></text>
<text transform="translate(75.7 1291.3) rotate(-90) scale(0.963 1)" text-anchor="middle" font-size="58.4" fill="#262626">Amp. (cm)</text>
<text transform="translate(1605 1175.6) scale(0.963 1)" text-anchor="start" font-size="58.4" fill="#000">U direction</text>
<text transform="translate(1390.5 1257.7) scale(0.963 1)" text-anchor="start" font-size="58.4" fill="#FF0000">0.2Hz</text>
<text transform="translate(715 1571.2) scale(0.963 1)" text-anchor="middle" font-size="58.4" fill="#262626">10<tspan dx="-1.5" dy="-19.6" font-size="46.4">-</tspan><tspan dy="-3" font-size="46.4">2</tspan></text>
<text transform="translate(1215.3 1571.2) scale(0.963 1)" text-anchor="middle" font-size="58.4" fill="#262626">10<tspan dx="-1.5" dy="-19.6" font-size="46.4">-</tspan><tspan dy="-3" font-size="46.4">1</tspan></text>
<text transform="translate(1717.2 1571.2) scale(0.963 1)" text-anchor="middle" font-size="58.4" fill="#262626">10<tspan dy="-22.6" font-size="46.4">0</tspan></text>
<text transform="translate(1154.5 1648.5) scale(0.963 1)" text-anchor="middle" font-size="58.4" fill="#262626">frequency (Hz)</text>
</g>
</svg></body></html>
